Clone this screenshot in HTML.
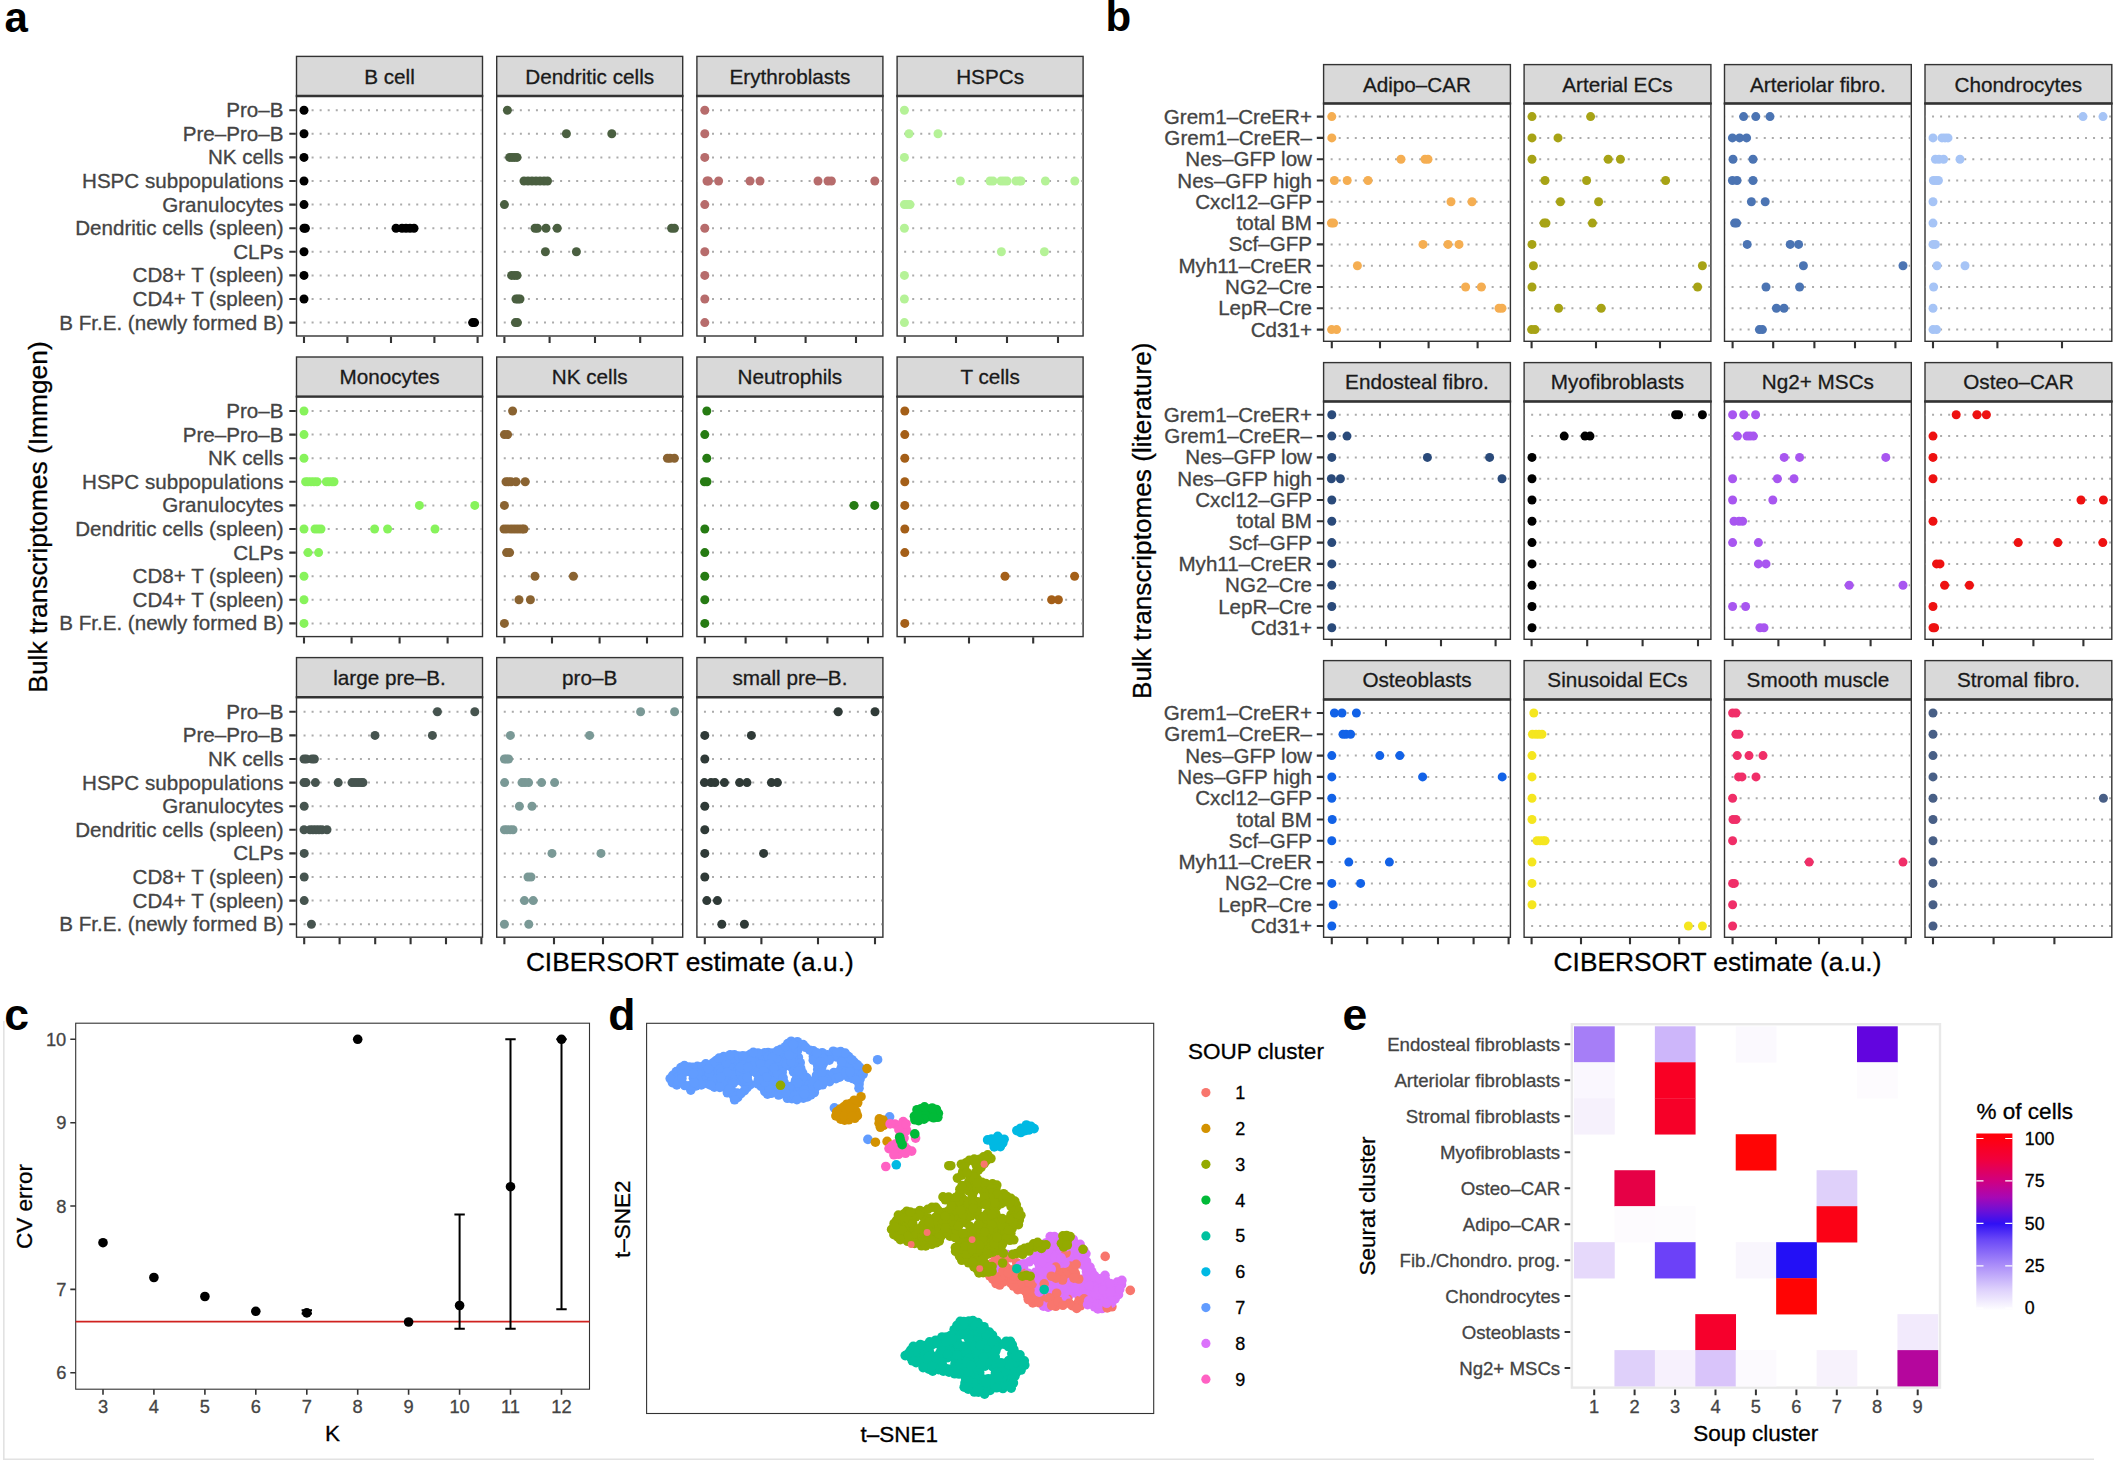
<!DOCTYPE html>
<html lang="en"><head><meta charset="utf-8"><title>Figure</title>
<style>html,body{margin:0;padding:0;background:#fff}body{width:2114px;height:1460px;overflow:hidden}svg{display:block}text{font-family:"Liberation Sans", sans-serif}</style>
</head><body>
<svg width="2114" height="1460" viewBox="0 0 2114 1460" font-family='"Liberation Sans", sans-serif'>
<text x="4.5" y="31.6" font-size="42" fill="#000" font-weight="bold">a</text>
<rect x="296.5" y="56.4" width="186.0" height="39.6" fill="#d9d9d9" stroke="#333333" stroke-width="1.4"/>
<rect x="296.5" y="96.0" width="186.0" height="240.0" fill="#fff" stroke="#333333" stroke-width="1.4"/>
<path d="M295.8 96.0h187.4" stroke="#333333" stroke-width="2.4"/>
<text x="389.5" y="83.6" font-size="20.7" fill="#1a1a1a" stroke="#1a1a1a" stroke-width="0.3" text-anchor="middle">B cell</text>
<path d="M297.3 110.2H481.7M297.3 133.8H481.7M297.3 157.4H481.7M297.3 181.0H481.7M297.3 204.6H481.7M297.3 228.2H481.7M297.3 251.8H481.7M297.3 275.4H481.7M297.3 299.0H481.7M297.3 322.6H481.7" stroke="#ababab" stroke-width="2" stroke-dasharray="2 6.05" stroke-dashoffset="-6.25" fill="none"/>
<path d="M304.0 336.7v6.3M347.4 336.7v6.3M391.0 336.7v6.3M434.4 336.7v6.3M477.6 336.7v6.3" stroke="#333333" stroke-width="2.1" fill="none"/>
<g fill="#000000"><circle cx="304.0" cy="110.2" r="4.5"/><circle cx="304.0" cy="133.8" r="4.5"/><circle cx="304.0" cy="157.4" r="4.5"/><circle cx="304.0" cy="181.0" r="4.5"/><circle cx="304.0" cy="204.6" r="4.5"/><circle cx="304.0" cy="228.2" r="4.5"/><circle cx="305.4" cy="228.2" r="4.5"/><circle cx="396.0" cy="228.2" r="4.5"/><circle cx="402.0" cy="228.2" r="4.5"/><circle cx="406.0" cy="228.2" r="4.5"/><circle cx="410.0" cy="228.2" r="4.5"/><circle cx="414.0" cy="228.2" r="4.5"/><circle cx="304.0" cy="251.8" r="4.5"/><circle cx="304.0" cy="275.4" r="4.5"/><circle cx="304.0" cy="299.0" r="4.5"/><circle cx="472.6" cy="322.6" r="4.5"/><circle cx="474.6" cy="322.6" r="4.5"/></g>
<text x="283.5" y="117.2" font-size="20.6" fill="#444444" stroke="#444444" stroke-width="0.3" text-anchor="end">Pro–B</text>
<text x="283.5" y="140.8" font-size="20.6" fill="#444444" stroke="#444444" stroke-width="0.3" text-anchor="end">Pre–Pro–B</text>
<text x="283.5" y="164.4" font-size="20.6" fill="#444444" stroke="#444444" stroke-width="0.3" text-anchor="end">NK cells</text>
<text x="283.5" y="188.0" font-size="20.6" fill="#444444" stroke="#444444" stroke-width="0.3" text-anchor="end">HSPC subpopulations</text>
<text x="283.5" y="211.6" font-size="20.6" fill="#444444" stroke="#444444" stroke-width="0.3" text-anchor="end">Granulocytes</text>
<text x="283.5" y="235.2" font-size="20.6" fill="#444444" stroke="#444444" stroke-width="0.3" text-anchor="end">Dendritic cells (spleen)</text>
<text x="283.5" y="258.8" font-size="20.6" fill="#444444" stroke="#444444" stroke-width="0.3" text-anchor="end">CLPs</text>
<text x="283.5" y="282.4" font-size="20.6" fill="#444444" stroke="#444444" stroke-width="0.3" text-anchor="end">CD8+ T (spleen)</text>
<text x="283.5" y="306.0" font-size="20.6" fill="#444444" stroke="#444444" stroke-width="0.3" text-anchor="end">CD4+ T (spleen)</text>
<text x="283.5" y="329.6" font-size="20.6" fill="#444444" stroke="#444444" stroke-width="0.3" text-anchor="end">B Fr.E. (newly formed B)</text>
<path d="M289.3 110.2h6.5M289.3 133.8h6.5M289.3 157.4h6.5M289.3 181.0h6.5M289.3 204.6h6.5M289.3 228.2h6.5M289.3 251.8h6.5M289.3 275.4h6.5M289.3 299.0h6.5M289.3 322.6h6.5" stroke="#333333" stroke-width="2.1" fill="none"/>
<rect x="496.7" y="56.4" width="186.0" height="39.6" fill="#d9d9d9" stroke="#333333" stroke-width="1.4"/>
<rect x="496.7" y="96.0" width="186.0" height="240.0" fill="#fff" stroke="#333333" stroke-width="1.4"/>
<path d="M496.0 96.0h187.4" stroke="#333333" stroke-width="2.4"/>
<text x="589.7" y="83.6" font-size="20.7" fill="#1a1a1a" stroke="#1a1a1a" stroke-width="0.3" text-anchor="middle">Dendritic cells</text>
<path d="M497.5 110.2H681.9M497.5 133.8H681.9M497.5 157.4H681.9M497.5 181.0H681.9M497.5 204.6H681.9M497.5 228.2H681.9M497.5 251.8H681.9M497.5 275.4H681.9M497.5 299.0H681.9M497.5 322.6H681.9" stroke="#ababab" stroke-width="2" stroke-dasharray="2 6.05" stroke-dashoffset="-6.25" fill="none"/>
<path d="M504.4 336.7v6.3M549.6 336.7v6.3M595.0 336.7v6.3M640.2 336.7v6.3" stroke="#333333" stroke-width="2.1" fill="none"/>
<g fill="#4a5f40"><circle cx="507.4" cy="110.2" r="4.5"/><circle cx="566.4" cy="133.8" r="4.5"/><circle cx="611.8" cy="133.8" r="4.5"/><circle cx="509.6" cy="157.4" r="4.5"/><circle cx="512.0" cy="157.4" r="4.5"/><circle cx="514.4" cy="157.4" r="4.5"/><circle cx="517.0" cy="157.4" r="4.5"/><circle cx="524.0" cy="181.0" r="4.5"/><circle cx="528.0" cy="181.0" r="4.5"/><circle cx="532.0" cy="181.0" r="4.5"/><circle cx="536.0" cy="181.0" r="4.5"/><circle cx="540.0" cy="181.0" r="4.5"/><circle cx="544.0" cy="181.0" r="4.5"/><circle cx="547.5" cy="181.0" r="4.5"/><circle cx="504.4" cy="204.6" r="4.5"/><circle cx="535.0" cy="228.2" r="4.5"/><circle cx="537.4" cy="228.2" r="4.5"/><circle cx="546.0" cy="228.2" r="4.5"/><circle cx="557.2" cy="228.2" r="4.5"/><circle cx="671.6" cy="228.2" r="4.5"/><circle cx="674.4" cy="228.2" r="4.5"/><circle cx="545.4" cy="251.8" r="4.5"/><circle cx="576.4" cy="251.8" r="4.5"/><circle cx="511.6" cy="275.4" r="4.5"/><circle cx="514.4" cy="275.4" r="4.5"/><circle cx="517.0" cy="275.4" r="4.5"/><circle cx="516.0" cy="299.0" r="4.5"/><circle cx="518.0" cy="299.0" r="4.5"/><circle cx="520.0" cy="299.0" r="4.5"/><circle cx="515.4" cy="322.6" r="4.5"/><circle cx="517.4" cy="322.6" r="4.5"/></g>
<rect x="696.9" y="56.4" width="186.0" height="39.6" fill="#d9d9d9" stroke="#333333" stroke-width="1.4"/>
<rect x="696.9" y="96.0" width="186.0" height="240.0" fill="#fff" stroke="#333333" stroke-width="1.4"/>
<path d="M696.2 96.0h187.4" stroke="#333333" stroke-width="2.4"/>
<text x="789.9" y="83.6" font-size="20.7" fill="#1a1a1a" stroke="#1a1a1a" stroke-width="0.3" text-anchor="middle">Erythroblasts</text>
<path d="M697.7 110.2H882.1M697.7 133.8H882.1M697.7 157.4H882.1M697.7 181.0H882.1M697.7 204.6H882.1M697.7 228.2H882.1M697.7 251.8H882.1M697.7 275.4H882.1M697.7 299.0H882.1M697.7 322.6H882.1" stroke="#ababab" stroke-width="2" stroke-dasharray="2 6.05" stroke-dashoffset="-6.25" fill="none"/>
<path d="M704.8 336.7v6.3M755.2 336.7v6.3M805.6 336.7v6.3M856.0 336.7v6.3" stroke="#333333" stroke-width="2.1" fill="none"/>
<g fill="#b76c6c"><circle cx="704.8" cy="110.2" r="4.5"/><circle cx="704.8" cy="133.8" r="4.5"/><circle cx="704.8" cy="157.4" r="4.5"/><circle cx="707.0" cy="181.0" r="4.5"/><circle cx="708.4" cy="181.0" r="4.5"/><circle cx="718.6" cy="181.0" r="4.5"/><circle cx="750.0" cy="181.0" r="4.5"/><circle cx="760.0" cy="181.0" r="4.5"/><circle cx="818.0" cy="181.0" r="4.5"/><circle cx="828.0" cy="181.0" r="4.5"/><circle cx="831.4" cy="181.0" r="4.5"/><circle cx="874.8" cy="181.0" r="4.5"/><circle cx="704.8" cy="204.6" r="4.5"/><circle cx="704.8" cy="228.2" r="4.5"/><circle cx="704.8" cy="251.8" r="4.5"/><circle cx="704.8" cy="275.4" r="4.5"/><circle cx="704.8" cy="299.0" r="4.5"/><circle cx="704.8" cy="322.6" r="4.5"/></g>
<rect x="897.1" y="56.4" width="186.0" height="39.6" fill="#d9d9d9" stroke="#333333" stroke-width="1.4"/>
<rect x="897.1" y="96.0" width="186.0" height="240.0" fill="#fff" stroke="#333333" stroke-width="1.4"/>
<path d="M896.4 96.0h187.4" stroke="#333333" stroke-width="2.4"/>
<text x="990.1" y="83.6" font-size="20.7" fill="#1a1a1a" stroke="#1a1a1a" stroke-width="0.3" text-anchor="middle">HSPCs</text>
<path d="M897.9 110.2H1082.3M897.9 133.8H1082.3M897.9 157.4H1082.3M897.9 181.0H1082.3M897.9 204.6H1082.3M897.9 228.2H1082.3M897.9 251.8H1082.3M897.9 275.4H1082.3M897.9 299.0H1082.3M897.9 322.6H1082.3" stroke="#ababab" stroke-width="2" stroke-dasharray="2 6.05" stroke-dashoffset="-6.25" fill="none"/>
<path d="M904.8 336.7v6.3M956.0 336.7v6.3M1007.0 336.7v6.3M1058.0 336.7v6.3" stroke="#333333" stroke-width="2.1" fill="none"/>
<g fill="#b5f297"><circle cx="904.4" cy="110.2" r="4.5"/><circle cx="909.0" cy="133.8" r="4.5"/><circle cx="938.0" cy="133.8" r="4.5"/><circle cx="904.4" cy="157.4" r="4.5"/><circle cx="960.4" cy="181.0" r="4.5"/><circle cx="990.0" cy="181.0" r="4.5"/><circle cx="993.0" cy="181.0" r="4.5"/><circle cx="1001.0" cy="181.0" r="4.5"/><circle cx="1004.0" cy="181.0" r="4.5"/><circle cx="1007.0" cy="181.0" r="4.5"/><circle cx="1016.0" cy="181.0" r="4.5"/><circle cx="1019.0" cy="181.0" r="4.5"/><circle cx="1021.0" cy="181.0" r="4.5"/><circle cx="1045.4" cy="181.0" r="4.5"/><circle cx="1074.8" cy="181.0" r="4.5"/><circle cx="904.4" cy="204.6" r="4.5"/><circle cx="907.0" cy="204.6" r="4.5"/><circle cx="910.0" cy="204.6" r="4.5"/><circle cx="904.4" cy="228.2" r="4.5"/><circle cx="1001.4" cy="251.8" r="4.5"/><circle cx="1044.4" cy="251.8" r="4.5"/><circle cx="904.4" cy="275.4" r="4.5"/><circle cx="904.4" cy="299.0" r="4.5"/><circle cx="904.4" cy="322.6" r="4.5"/></g>
<rect x="296.5" y="357.0" width="186.0" height="39.6" fill="#d9d9d9" stroke="#333333" stroke-width="1.4"/>
<rect x="296.5" y="396.6" width="186.0" height="240.0" fill="#fff" stroke="#333333" stroke-width="1.4"/>
<path d="M295.8 396.6h187.4" stroke="#333333" stroke-width="2.4"/>
<text x="389.5" y="384.2" font-size="20.7" fill="#1a1a1a" stroke="#1a1a1a" stroke-width="0.3" text-anchor="middle">Monocytes</text>
<path d="M297.3 411.0H481.7M297.3 434.6H481.7M297.3 458.2H481.7M297.3 481.8H481.7M297.3 505.4H481.7M297.3 529.0H481.7M297.3 552.6H481.7M297.3 576.2H481.7M297.3 599.8H481.7M297.3 623.4H481.7" stroke="#ababab" stroke-width="2" stroke-dasharray="2 6.05" stroke-dashoffset="-6.25" fill="none"/>
<path d="M304.0 637.3v6.3M351.6 637.3v6.3M399.6 637.3v6.3M447.6 637.3v6.3" stroke="#333333" stroke-width="2.1" fill="none"/>
<g fill="#87f35b"><circle cx="304.0" cy="411.0" r="4.5"/><circle cx="304.0" cy="434.6" r="4.5"/><circle cx="304.0" cy="458.2" r="4.5"/><circle cx="305.6" cy="481.8" r="4.5"/><circle cx="308.0" cy="481.8" r="4.5"/><circle cx="311.0" cy="481.8" r="4.5"/><circle cx="314.0" cy="481.8" r="4.5"/><circle cx="317.0" cy="481.8" r="4.5"/><circle cx="326.4" cy="481.8" r="4.5"/><circle cx="329.0" cy="481.8" r="4.5"/><circle cx="332.0" cy="481.8" r="4.5"/><circle cx="334.0" cy="481.8" r="4.5"/><circle cx="419.4" cy="505.4" r="4.5"/><circle cx="474.8" cy="505.4" r="4.5"/><circle cx="304.0" cy="529.0" r="4.5"/><circle cx="315.0" cy="529.0" r="4.5"/><circle cx="318.0" cy="529.0" r="4.5"/><circle cx="321.0" cy="529.0" r="4.5"/><circle cx="374.6" cy="529.0" r="4.5"/><circle cx="387.6" cy="529.0" r="4.5"/><circle cx="435.0" cy="529.0" r="4.5"/><circle cx="308.0" cy="552.6" r="4.5"/><circle cx="318.6" cy="552.6" r="4.5"/><circle cx="304.0" cy="576.2" r="4.5"/><circle cx="304.0" cy="599.8" r="4.5"/><circle cx="304.0" cy="623.4" r="4.5"/></g>
<text x="283.5" y="418.0" font-size="20.6" fill="#444444" stroke="#444444" stroke-width="0.3" text-anchor="end">Pro–B</text>
<text x="283.5" y="441.6" font-size="20.6" fill="#444444" stroke="#444444" stroke-width="0.3" text-anchor="end">Pre–Pro–B</text>
<text x="283.5" y="465.2" font-size="20.6" fill="#444444" stroke="#444444" stroke-width="0.3" text-anchor="end">NK cells</text>
<text x="283.5" y="488.8" font-size="20.6" fill="#444444" stroke="#444444" stroke-width="0.3" text-anchor="end">HSPC subpopulations</text>
<text x="283.5" y="512.4" font-size="20.6" fill="#444444" stroke="#444444" stroke-width="0.3" text-anchor="end">Granulocytes</text>
<text x="283.5" y="536.0" font-size="20.6" fill="#444444" stroke="#444444" stroke-width="0.3" text-anchor="end">Dendritic cells (spleen)</text>
<text x="283.5" y="559.6" font-size="20.6" fill="#444444" stroke="#444444" stroke-width="0.3" text-anchor="end">CLPs</text>
<text x="283.5" y="583.2" font-size="20.6" fill="#444444" stroke="#444444" stroke-width="0.3" text-anchor="end">CD8+ T (spleen)</text>
<text x="283.5" y="606.8" font-size="20.6" fill="#444444" stroke="#444444" stroke-width="0.3" text-anchor="end">CD4+ T (spleen)</text>
<text x="283.5" y="630.4" font-size="20.6" fill="#444444" stroke="#444444" stroke-width="0.3" text-anchor="end">B Fr.E. (newly formed B)</text>
<path d="M289.3 411.0h6.5M289.3 434.6h6.5M289.3 458.2h6.5M289.3 481.8h6.5M289.3 505.4h6.5M289.3 529.0h6.5M289.3 552.6h6.5M289.3 576.2h6.5M289.3 599.8h6.5M289.3 623.4h6.5" stroke="#333333" stroke-width="2.1" fill="none"/>
<rect x="496.7" y="357.0" width="186.0" height="39.6" fill="#d9d9d9" stroke="#333333" stroke-width="1.4"/>
<rect x="496.7" y="396.6" width="186.0" height="240.0" fill="#fff" stroke="#333333" stroke-width="1.4"/>
<path d="M496.0 396.6h187.4" stroke="#333333" stroke-width="2.4"/>
<text x="589.7" y="384.2" font-size="20.7" fill="#1a1a1a" stroke="#1a1a1a" stroke-width="0.3" text-anchor="middle">NK cells</text>
<path d="M497.5 411.0H681.9M497.5 434.6H681.9M497.5 458.2H681.9M497.5 481.8H681.9M497.5 505.4H681.9M497.5 529.0H681.9M497.5 552.6H681.9M497.5 576.2H681.9M497.5 599.8H681.9M497.5 623.4H681.9" stroke="#ababab" stroke-width="2" stroke-dasharray="2 6.05" stroke-dashoffset="-6.25" fill="none"/>
<path d="M504.4 637.3v6.3M552.0 637.3v6.3M599.6 637.3v6.3M647.0 637.3v6.3" stroke="#333333" stroke-width="2.1" fill="none"/>
<g fill="#8a6331"><circle cx="512.6" cy="411.0" r="4.5"/><circle cx="504.4" cy="434.6" r="4.5"/><circle cx="507.6" cy="434.6" r="4.5"/><circle cx="667.4" cy="458.2" r="4.5"/><circle cx="670.0" cy="458.2" r="4.5"/><circle cx="674.4" cy="458.2" r="4.5"/><circle cx="506.0" cy="481.8" r="4.5"/><circle cx="508.4" cy="481.8" r="4.5"/><circle cx="511.0" cy="481.8" r="4.5"/><circle cx="516.0" cy="481.8" r="4.5"/><circle cx="525.2" cy="481.8" r="4.5"/><circle cx="504.4" cy="505.4" r="4.5"/><circle cx="504.0" cy="529.0" r="4.5"/><circle cx="507.0" cy="529.0" r="4.5"/><circle cx="510.0" cy="529.0" r="4.5"/><circle cx="513.0" cy="529.0" r="4.5"/><circle cx="516.0" cy="529.0" r="4.5"/><circle cx="519.0" cy="529.0" r="4.5"/><circle cx="522.0" cy="529.0" r="4.5"/><circle cx="524.0" cy="529.0" r="4.5"/><circle cx="506.6" cy="552.6" r="4.5"/><circle cx="509.6" cy="552.6" r="4.5"/><circle cx="535.0" cy="576.2" r="4.5"/><circle cx="573.4" cy="576.2" r="4.5"/><circle cx="519.0" cy="599.8" r="4.5"/><circle cx="530.4" cy="599.8" r="4.5"/><circle cx="504.4" cy="623.4" r="4.5"/></g>
<rect x="696.9" y="357.0" width="186.0" height="39.6" fill="#d9d9d9" stroke="#333333" stroke-width="1.4"/>
<rect x="696.9" y="396.6" width="186.0" height="240.0" fill="#fff" stroke="#333333" stroke-width="1.4"/>
<path d="M696.2 396.6h187.4" stroke="#333333" stroke-width="2.4"/>
<text x="789.9" y="384.2" font-size="20.7" fill="#1a1a1a" stroke="#1a1a1a" stroke-width="0.3" text-anchor="middle">Neutrophils</text>
<path d="M697.7 411.0H882.1M697.7 434.6H882.1M697.7 458.2H882.1M697.7 481.8H882.1M697.7 505.4H882.1M697.7 529.0H882.1M697.7 552.6H882.1M697.7 576.2H882.1M697.7 599.8H882.1M697.7 623.4H882.1" stroke="#ababab" stroke-width="2" stroke-dasharray="2 6.05" stroke-dashoffset="-6.25" fill="none"/>
<path d="M704.8 637.3v6.3M745.6 637.3v6.3M786.4 637.3v6.3M827.4 637.3v6.3M868.0 637.3v6.3" stroke="#333333" stroke-width="2.1" fill="none"/>
<g fill="#267b13"><circle cx="706.8" cy="411.0" r="4.5"/><circle cx="704.8" cy="434.6" r="4.5"/><circle cx="706.8" cy="458.2" r="4.5"/><circle cx="704.4" cy="481.8" r="4.5"/><circle cx="707.0" cy="481.8" r="4.5"/><circle cx="854.0" cy="505.4" r="4.5"/><circle cx="874.8" cy="505.4" r="4.5"/><circle cx="704.8" cy="529.0" r="4.5"/><circle cx="704.8" cy="552.6" r="4.5"/><circle cx="704.8" cy="576.2" r="4.5"/><circle cx="704.8" cy="599.8" r="4.5"/><circle cx="704.8" cy="623.4" r="4.5"/></g>
<rect x="897.1" y="357.0" width="186.0" height="39.6" fill="#d9d9d9" stroke="#333333" stroke-width="1.4"/>
<rect x="897.1" y="396.6" width="186.0" height="240.0" fill="#fff" stroke="#333333" stroke-width="1.4"/>
<path d="M896.4 396.6h187.4" stroke="#333333" stroke-width="2.4"/>
<text x="990.1" y="384.2" font-size="20.7" fill="#1a1a1a" stroke="#1a1a1a" stroke-width="0.3" text-anchor="middle">T cells</text>
<path d="M897.9 411.0H1082.3M897.9 434.6H1082.3M897.9 458.2H1082.3M897.9 481.8H1082.3M897.9 505.4H1082.3M897.9 529.0H1082.3M897.9 552.6H1082.3M897.9 576.2H1082.3M897.9 599.8H1082.3M897.9 623.4H1082.3" stroke="#ababab" stroke-width="2" stroke-dasharray="2 6.05" stroke-dashoffset="-6.25" fill="none"/>
<path d="M904.8 637.3v6.3M969.0 637.3v6.3M1033.2 637.3v6.3" stroke="#333333" stroke-width="2.1" fill="none"/>
<g fill="#a45f18"><circle cx="904.8" cy="411.0" r="4.5"/><circle cx="904.8" cy="434.6" r="4.5"/><circle cx="904.8" cy="458.2" r="4.5"/><circle cx="904.8" cy="481.8" r="4.5"/><circle cx="904.8" cy="505.4" r="4.5"/><circle cx="904.8" cy="529.0" r="4.5"/><circle cx="904.8" cy="552.6" r="4.5"/><circle cx="1005.0" cy="576.2" r="4.5"/><circle cx="1074.6" cy="576.2" r="4.5"/><circle cx="1051.6" cy="599.8" r="4.5"/><circle cx="1058.4" cy="599.8" r="4.5"/><circle cx="904.8" cy="623.4" r="4.5"/></g>
<rect x="296.5" y="657.6" width="186.0" height="39.6" fill="#d9d9d9" stroke="#333333" stroke-width="1.4"/>
<rect x="296.5" y="697.2" width="186.0" height="240.0" fill="#fff" stroke="#333333" stroke-width="1.4"/>
<path d="M295.8 697.2h187.4" stroke="#333333" stroke-width="2.4"/>
<text x="389.5" y="684.8" font-size="20.7" fill="#1a1a1a" stroke="#1a1a1a" stroke-width="0.3" text-anchor="middle">large pre–B.</text>
<path d="M297.3 711.8H481.7M297.3 735.4H481.7M297.3 759.0H481.7M297.3 782.6H481.7M297.3 806.2H481.7M297.3 829.8H481.7M297.3 853.4H481.7M297.3 877.0H481.7M297.3 900.6H481.7M297.3 924.2H481.7" stroke="#ababab" stroke-width="2" stroke-dasharray="2 6.05" stroke-dashoffset="-6.25" fill="none"/>
<path d="M304.2 937.9v6.3M339.6 937.9v6.3M375.2 937.9v6.3M410.6 937.9v6.3M446.0 937.9v6.3M481.4 937.9v6.3" stroke="#333333" stroke-width="2.1" fill="none"/>
<g fill="#46544f"><circle cx="437.4" cy="711.8" r="4.5"/><circle cx="474.8" cy="711.8" r="4.5"/><circle cx="375.0" cy="735.4" r="4.5"/><circle cx="432.4" cy="735.4" r="4.5"/><circle cx="304.0" cy="759.0" r="4.5"/><circle cx="306.4" cy="759.0" r="4.5"/><circle cx="312.0" cy="759.0" r="4.5"/><circle cx="314.4" cy="759.0" r="4.5"/><circle cx="304.0" cy="782.6" r="4.5"/><circle cx="306.0" cy="782.6" r="4.5"/><circle cx="315.4" cy="782.6" r="4.5"/><circle cx="338.2" cy="782.6" r="4.5"/><circle cx="352.0" cy="782.6" r="4.5"/><circle cx="355.0" cy="782.6" r="4.5"/><circle cx="358.0" cy="782.6" r="4.5"/><circle cx="361.0" cy="782.6" r="4.5"/><circle cx="363.0" cy="782.6" r="4.5"/><circle cx="304.2" cy="806.2" r="4.5"/><circle cx="304.0" cy="829.8" r="4.5"/><circle cx="310.0" cy="829.8" r="4.5"/><circle cx="313.0" cy="829.8" r="4.5"/><circle cx="316.0" cy="829.8" r="4.5"/><circle cx="319.0" cy="829.8" r="4.5"/><circle cx="322.0" cy="829.8" r="4.5"/><circle cx="327.0" cy="829.8" r="4.5"/><circle cx="304.2" cy="853.4" r="4.5"/><circle cx="304.2" cy="877.0" r="4.5"/><circle cx="304.2" cy="900.6" r="4.5"/><circle cx="311.4" cy="924.2" r="4.5"/></g>
<text x="283.5" y="718.8" font-size="20.6" fill="#444444" stroke="#444444" stroke-width="0.3" text-anchor="end">Pro–B</text>
<text x="283.5" y="742.4" font-size="20.6" fill="#444444" stroke="#444444" stroke-width="0.3" text-anchor="end">Pre–Pro–B</text>
<text x="283.5" y="766.0" font-size="20.6" fill="#444444" stroke="#444444" stroke-width="0.3" text-anchor="end">NK cells</text>
<text x="283.5" y="789.6" font-size="20.6" fill="#444444" stroke="#444444" stroke-width="0.3" text-anchor="end">HSPC subpopulations</text>
<text x="283.5" y="813.2" font-size="20.6" fill="#444444" stroke="#444444" stroke-width="0.3" text-anchor="end">Granulocytes</text>
<text x="283.5" y="836.8" font-size="20.6" fill="#444444" stroke="#444444" stroke-width="0.3" text-anchor="end">Dendritic cells (spleen)</text>
<text x="283.5" y="860.4" font-size="20.6" fill="#444444" stroke="#444444" stroke-width="0.3" text-anchor="end">CLPs</text>
<text x="283.5" y="884.0" font-size="20.6" fill="#444444" stroke="#444444" stroke-width="0.3" text-anchor="end">CD8+ T (spleen)</text>
<text x="283.5" y="907.6" font-size="20.6" fill="#444444" stroke="#444444" stroke-width="0.3" text-anchor="end">CD4+ T (spleen)</text>
<text x="283.5" y="931.2" font-size="20.6" fill="#444444" stroke="#444444" stroke-width="0.3" text-anchor="end">B Fr.E. (newly formed B)</text>
<path d="M289.3 711.8h6.5M289.3 735.4h6.5M289.3 759.0h6.5M289.3 782.6h6.5M289.3 806.2h6.5M289.3 829.8h6.5M289.3 853.4h6.5M289.3 877.0h6.5M289.3 900.6h6.5M289.3 924.2h6.5" stroke="#333333" stroke-width="2.1" fill="none"/>
<rect x="496.7" y="657.6" width="186.0" height="39.6" fill="#d9d9d9" stroke="#333333" stroke-width="1.4"/>
<rect x="496.7" y="697.2" width="186.0" height="240.0" fill="#fff" stroke="#333333" stroke-width="1.4"/>
<path d="M496.0 697.2h187.4" stroke="#333333" stroke-width="2.4"/>
<text x="589.7" y="684.8" font-size="20.7" fill="#1a1a1a" stroke="#1a1a1a" stroke-width="0.3" text-anchor="middle">pro–B</text>
<path d="M497.5 711.8H681.9M497.5 735.4H681.9M497.5 759.0H681.9M497.5 782.6H681.9M497.5 806.2H681.9M497.5 829.8H681.9M497.5 853.4H681.9M497.5 877.0H681.9M497.5 900.6H681.9M497.5 924.2H681.9" stroke="#ababab" stroke-width="2" stroke-dasharray="2 6.05" stroke-dashoffset="-6.25" fill="none"/>
<path d="M504.4 937.9v6.3M554.0 937.9v6.3M603.0 937.9v6.3M652.4 937.9v6.3" stroke="#333333" stroke-width="2.1" fill="none"/>
<g fill="#7a9996"><circle cx="640.6" cy="711.8" r="4.5"/><circle cx="674.6" cy="711.8" r="4.5"/><circle cx="510.4" cy="735.4" r="4.5"/><circle cx="589.6" cy="735.4" r="4.5"/><circle cx="504.4" cy="759.0" r="4.5"/><circle cx="506.4" cy="759.0" r="4.5"/><circle cx="508.6" cy="759.0" r="4.5"/><circle cx="504.6" cy="782.6" r="4.5"/><circle cx="522.0" cy="782.6" r="4.5"/><circle cx="525.0" cy="782.6" r="4.5"/><circle cx="528.6" cy="782.6" r="4.5"/><circle cx="541.6" cy="782.6" r="4.5"/><circle cx="554.6" cy="782.6" r="4.5"/><circle cx="519.4" cy="806.2" r="4.5"/><circle cx="532.0" cy="806.2" r="4.5"/><circle cx="504.4" cy="829.8" r="4.5"/><circle cx="507.0" cy="829.8" r="4.5"/><circle cx="510.0" cy="829.8" r="4.5"/><circle cx="513.0" cy="829.8" r="4.5"/><circle cx="552.0" cy="853.4" r="4.5"/><circle cx="601.0" cy="853.4" r="4.5"/><circle cx="528.0" cy="877.0" r="4.5"/><circle cx="531.0" cy="877.0" r="4.5"/><circle cx="524.4" cy="900.6" r="4.5"/><circle cx="533.2" cy="900.6" r="4.5"/><circle cx="504.4" cy="924.2" r="4.5"/><circle cx="528.8" cy="924.2" r="4.5"/></g>
<rect x="696.9" y="657.6" width="186.0" height="39.6" fill="#d9d9d9" stroke="#333333" stroke-width="1.4"/>
<rect x="696.9" y="697.2" width="186.0" height="240.0" fill="#fff" stroke="#333333" stroke-width="1.4"/>
<path d="M696.2 697.2h187.4" stroke="#333333" stroke-width="2.4"/>
<text x="789.9" y="684.8" font-size="20.7" fill="#1a1a1a" stroke="#1a1a1a" stroke-width="0.3" text-anchor="middle">small pre–B.</text>
<path d="M697.7 711.8H882.1M697.7 735.4H882.1M697.7 759.0H882.1M697.7 782.6H882.1M697.7 806.2H882.1M697.7 829.8H882.1M697.7 853.4H882.1M697.7 877.0H882.1M697.7 900.6H882.1M697.7 924.2H882.1" stroke="#ababab" stroke-width="2" stroke-dasharray="2 6.05" stroke-dashoffset="-6.25" fill="none"/>
<path d="M704.8 937.9v6.3M761.4 937.9v6.3M818.0 937.9v6.3M875.0 937.9v6.3" stroke="#333333" stroke-width="2.1" fill="none"/>
<g fill="#2f3a37"><circle cx="838.2" cy="711.8" r="4.5"/><circle cx="875.0" cy="711.8" r="4.5"/><circle cx="704.8" cy="735.4" r="4.5"/><circle cx="751.4" cy="735.4" r="4.5"/><circle cx="704.8" cy="759.0" r="4.5"/><circle cx="704.4" cy="782.6" r="4.5"/><circle cx="711.0" cy="782.6" r="4.5"/><circle cx="715.0" cy="782.6" r="4.5"/><circle cx="724.4" cy="782.6" r="4.5"/><circle cx="739.6" cy="782.6" r="4.5"/><circle cx="747.0" cy="782.6" r="4.5"/><circle cx="771.4" cy="782.6" r="4.5"/><circle cx="777.4" cy="782.6" r="4.5"/><circle cx="704.8" cy="806.2" r="4.5"/><circle cx="704.8" cy="829.8" r="4.5"/><circle cx="704.8" cy="853.4" r="4.5"/><circle cx="763.6" cy="853.4" r="4.5"/><circle cx="704.8" cy="877.0" r="4.5"/><circle cx="706.8" cy="900.6" r="4.5"/><circle cx="717.4" cy="900.6" r="4.5"/><circle cx="721.8" cy="924.2" r="4.5"/><circle cx="744.4" cy="924.2" r="4.5"/></g>
<text x="47.2" y="517.0" font-size="26.35" fill="#000" stroke="#000" stroke-width="0.3" text-anchor="middle" transform="rotate(-90 47.2 517.0)">Bulk transcriptomes (Immgen)</text>
<text x="689.8" y="970.6" font-size="26.3" fill="#000" stroke="#000" stroke-width="0.3" text-anchor="middle">CIBERSORT estimate (a.u.)</text>
<text x="1105.5" y="31.3" font-size="42" fill="#000" font-weight="bold">b</text>
<rect x="1323.6" y="64.6" width="186.8" height="38.9" fill="#d9d9d9" stroke="#333333" stroke-width="1.4"/>
<rect x="1323.6" y="103.5" width="186.8" height="237.8" fill="#fff" stroke="#333333" stroke-width="1.4"/>
<path d="M1322.9 103.5h188.2" stroke="#333333" stroke-width="2.4"/>
<text x="1417.0" y="91.5" font-size="20.7" fill="#1a1a1a" stroke="#1a1a1a" stroke-width="0.3" text-anchor="middle">Adipo–CAR</text>
<path d="M1324.4 116.6H1509.6M1324.4 137.9H1509.6M1324.4 159.2H1509.6M1324.4 180.5H1509.6M1324.4 201.8H1509.6M1324.4 223.1H1509.6M1324.4 244.4H1509.6M1324.4 265.7H1509.6M1324.4 287.0H1509.6M1324.4 308.3H1509.6M1324.4 329.6H1509.6" stroke="#ababab" stroke-width="2" stroke-dasharray="2 6.05" stroke-dashoffset="-6.25" fill="none"/>
<path d="M1331.8 342.0v6.3M1380.0 342.0v6.3M1428.6 342.0v6.3M1477.6 342.0v6.3" stroke="#333333" stroke-width="2.1" fill="none"/>
<g fill="#f5ae52"><circle cx="1331.8" cy="116.6" r="4.5"/><circle cx="1331.8" cy="137.9" r="4.5"/><circle cx="1401.0" cy="159.2" r="4.5"/><circle cx="1425.0" cy="159.2" r="4.5"/><circle cx="1428.0" cy="159.2" r="4.5"/><circle cx="1334.4" cy="180.5" r="4.5"/><circle cx="1347.2" cy="180.5" r="4.5"/><circle cx="1368.0" cy="180.5" r="4.5"/><circle cx="1451.0" cy="201.8" r="4.5"/><circle cx="1472.0" cy="201.8" r="4.5"/><circle cx="1331.4" cy="223.1" r="4.5"/><circle cx="1333.6" cy="223.1" r="4.5"/><circle cx="1423.0" cy="244.4" r="4.5"/><circle cx="1448.0" cy="244.4" r="4.5"/><circle cx="1459.0" cy="244.4" r="4.5"/><circle cx="1357.4" cy="265.7" r="4.5"/><circle cx="1465.6" cy="287.0" r="4.5"/><circle cx="1481.4" cy="287.0" r="4.5"/><circle cx="1499.0" cy="308.3" r="4.5"/><circle cx="1502.0" cy="308.3" r="4.5"/><circle cx="1331.6" cy="329.6" r="4.5"/><circle cx="1336.6" cy="329.6" r="4.5"/></g>
<text x="1312.0" y="123.6" font-size="20.6" fill="#444444" stroke="#444444" stroke-width="0.3" text-anchor="end">Grem1–CreER+</text>
<text x="1312.0" y="144.9" font-size="20.6" fill="#444444" stroke="#444444" stroke-width="0.3" text-anchor="end">Grem1–CreER–</text>
<text x="1312.0" y="166.2" font-size="20.6" fill="#444444" stroke="#444444" stroke-width="0.3" text-anchor="end">Nes–GFP low</text>
<text x="1312.0" y="187.5" font-size="20.6" fill="#444444" stroke="#444444" stroke-width="0.3" text-anchor="end">Nes–GFP high</text>
<text x="1312.0" y="208.8" font-size="20.6" fill="#444444" stroke="#444444" stroke-width="0.3" text-anchor="end">Cxcl12–GFP</text>
<text x="1312.0" y="230.1" font-size="20.6" fill="#444444" stroke="#444444" stroke-width="0.3" text-anchor="end">total BM</text>
<text x="1312.0" y="251.4" font-size="20.6" fill="#444444" stroke="#444444" stroke-width="0.3" text-anchor="end">Scf–GFP</text>
<text x="1312.0" y="272.7" font-size="20.6" fill="#444444" stroke="#444444" stroke-width="0.3" text-anchor="end">Myh11–CreER</text>
<text x="1312.0" y="294.0" font-size="20.6" fill="#444444" stroke="#444444" stroke-width="0.3" text-anchor="end">NG2–Cre</text>
<text x="1312.0" y="315.3" font-size="20.6" fill="#444444" stroke="#444444" stroke-width="0.3" text-anchor="end">LepR–Cre</text>
<text x="1312.0" y="336.6" font-size="20.6" fill="#444444" stroke="#444444" stroke-width="0.3" text-anchor="end">Cd31+</text>
<path d="M1316.8 116.6h6.5M1316.8 137.9h6.5M1316.8 159.2h6.5M1316.8 180.5h6.5M1316.8 201.8h6.5M1316.8 223.1h6.5M1316.8 244.4h6.5M1316.8 265.7h6.5M1316.8 287.0h6.5M1316.8 308.3h6.5M1316.8 329.6h6.5" stroke="#333333" stroke-width="2.1" fill="none"/>
<rect x="1524.1" y="64.6" width="186.8" height="38.9" fill="#d9d9d9" stroke="#333333" stroke-width="1.4"/>
<rect x="1524.1" y="103.5" width="186.8" height="237.8" fill="#fff" stroke="#333333" stroke-width="1.4"/>
<path d="M1523.4 103.5h188.2" stroke="#333333" stroke-width="2.4"/>
<text x="1617.5" y="91.5" font-size="20.7" fill="#1a1a1a" stroke="#1a1a1a" stroke-width="0.3" text-anchor="middle">Arterial ECs</text>
<path d="M1524.9 116.6H1710.1M1524.9 137.9H1710.1M1524.9 159.2H1710.1M1524.9 180.5H1710.1M1524.9 201.8H1710.1M1524.9 223.1H1710.1M1524.9 244.4H1710.1M1524.9 265.7H1710.1M1524.9 287.0H1710.1M1524.9 308.3H1710.1M1524.9 329.6H1710.1" stroke="#ababab" stroke-width="2" stroke-dasharray="2 6.05" stroke-dashoffset="-6.25" fill="none"/>
<path d="M1531.6 342.0v6.3M1596.0 342.0v6.3M1660.0 342.0v6.3" stroke="#333333" stroke-width="2.1" fill="none"/>
<g fill="#a7a315"><circle cx="1532.0" cy="116.6" r="4.5"/><circle cx="1590.6" cy="116.6" r="4.5"/><circle cx="1532.0" cy="137.9" r="4.5"/><circle cx="1558.0" cy="137.9" r="4.5"/><circle cx="1532.0" cy="159.2" r="4.5"/><circle cx="1608.2" cy="159.2" r="4.5"/><circle cx="1620.4" cy="159.2" r="4.5"/><circle cx="1545.0" cy="180.5" r="4.5"/><circle cx="1586.6" cy="180.5" r="4.5"/><circle cx="1665.6" cy="180.5" r="4.5"/><circle cx="1560.4" cy="201.8" r="4.5"/><circle cx="1598.6" cy="201.8" r="4.5"/><circle cx="1544.0" cy="223.1" r="4.5"/><circle cx="1546.0" cy="223.1" r="4.5"/><circle cx="1592.4" cy="223.1" r="4.5"/><circle cx="1532.0" cy="244.4" r="4.5"/><circle cx="1533.4" cy="265.7" r="4.5"/><circle cx="1702.4" cy="265.7" r="4.5"/><circle cx="1532.0" cy="287.0" r="4.5"/><circle cx="1697.6" cy="287.0" r="4.5"/><circle cx="1558.6" cy="308.3" r="4.5"/><circle cx="1601.2" cy="308.3" r="4.5"/><circle cx="1531.6" cy="329.6" r="4.5"/><circle cx="1535.0" cy="329.6" r="4.5"/></g>
<rect x="1724.5" y="64.6" width="186.8" height="38.9" fill="#d9d9d9" stroke="#333333" stroke-width="1.4"/>
<rect x="1724.5" y="103.5" width="186.8" height="237.8" fill="#fff" stroke="#333333" stroke-width="1.4"/>
<path d="M1723.8 103.5h188.2" stroke="#333333" stroke-width="2.4"/>
<text x="1817.9" y="91.5" font-size="20.7" fill="#1a1a1a" stroke="#1a1a1a" stroke-width="0.3" text-anchor="middle">Arteriolar fibro.</text>
<path d="M1725.3 116.6H1910.5M1725.3 137.9H1910.5M1725.3 159.2H1910.5M1725.3 180.5H1910.5M1725.3 201.8H1910.5M1725.3 223.1H1910.5M1725.3 244.4H1910.5M1725.3 265.7H1910.5M1725.3 287.0H1910.5M1725.3 308.3H1910.5M1725.3 329.6H1910.5" stroke="#ababab" stroke-width="2" stroke-dasharray="2 6.05" stroke-dashoffset="-6.25" fill="none"/>
<path d="M1732.6 342.0v6.3M1773.2 342.0v6.3M1814.4 342.0v6.3M1855.0 342.0v6.3M1895.4 342.0v6.3" stroke="#333333" stroke-width="2.1" fill="none"/>
<g fill="#4b74b3"><circle cx="1743.6" cy="116.6" r="4.5"/><circle cx="1755.8" cy="116.6" r="4.5"/><circle cx="1770.0" cy="116.6" r="4.5"/><circle cx="1732.4" cy="137.9" r="4.5"/><circle cx="1739.6" cy="137.9" r="4.5"/><circle cx="1746.6" cy="137.9" r="4.5"/><circle cx="1733.0" cy="159.2" r="4.5"/><circle cx="1753.0" cy="159.2" r="4.5"/><circle cx="1732.4" cy="180.5" r="4.5"/><circle cx="1737.0" cy="180.5" r="4.5"/><circle cx="1753.0" cy="180.5" r="4.5"/><circle cx="1751.4" cy="201.8" r="4.5"/><circle cx="1765.2" cy="201.8" r="4.5"/><circle cx="1734.6" cy="223.1" r="4.5"/><circle cx="1736.6" cy="223.1" r="4.5"/><circle cx="1747.2" cy="244.4" r="4.5"/><circle cx="1790.2" cy="244.4" r="4.5"/><circle cx="1798.6" cy="244.4" r="4.5"/><circle cx="1803.4" cy="265.7" r="4.5"/><circle cx="1903.0" cy="265.7" r="4.5"/><circle cx="1766.0" cy="287.0" r="4.5"/><circle cx="1799.6" cy="287.0" r="4.5"/><circle cx="1776.4" cy="308.3" r="4.5"/><circle cx="1784.0" cy="308.3" r="4.5"/><circle cx="1759.4" cy="329.6" r="4.5"/><circle cx="1762.4" cy="329.6" r="4.5"/></g>
<rect x="1925.0" y="64.6" width="186.8" height="38.9" fill="#d9d9d9" stroke="#333333" stroke-width="1.4"/>
<rect x="1925.0" y="103.5" width="186.8" height="237.8" fill="#fff" stroke="#333333" stroke-width="1.4"/>
<path d="M1924.3 103.5h188.2" stroke="#333333" stroke-width="2.4"/>
<text x="2018.4" y="91.5" font-size="20.7" fill="#1a1a1a" stroke="#1a1a1a" stroke-width="0.3" text-anchor="middle">Chondrocytes</text>
<path d="M1925.8 116.6H2111.0M1925.8 137.9H2111.0M1925.8 159.2H2111.0M1925.8 180.5H2111.0M1925.8 201.8H2111.0M1925.8 223.1H2111.0M1925.8 244.4H2111.0M1925.8 265.7H2111.0M1925.8 287.0H2111.0M1925.8 308.3H2111.0M1925.8 329.6H2111.0" stroke="#ababab" stroke-width="2" stroke-dasharray="2 6.05" stroke-dashoffset="-6.25" fill="none"/>
<path d="M1933.0 342.0v6.3M1997.4 342.0v6.3M2062.0 342.0v6.3" stroke="#333333" stroke-width="2.1" fill="none"/>
<g fill="#a6c4f6"><circle cx="2083.0" cy="116.6" r="4.5"/><circle cx="2103.0" cy="116.6" r="4.5"/><circle cx="1933.0" cy="137.9" r="4.5"/><circle cx="1942.0" cy="137.9" r="4.5"/><circle cx="1945.0" cy="137.9" r="4.5"/><circle cx="1948.0" cy="137.9" r="4.5"/><circle cx="1935.4" cy="159.2" r="4.5"/><circle cx="1939.0" cy="159.2" r="4.5"/><circle cx="1943.6" cy="159.2" r="4.5"/><circle cx="1960.0" cy="159.2" r="4.5"/><circle cx="1933.4" cy="180.5" r="4.5"/><circle cx="1936.0" cy="180.5" r="4.5"/><circle cx="1938.4" cy="180.5" r="4.5"/><circle cx="1933.0" cy="201.8" r="4.5"/><circle cx="1933.0" cy="223.1" r="4.5"/><circle cx="1933.0" cy="244.4" r="4.5"/><circle cx="1935.4" cy="244.4" r="4.5"/><circle cx="1937.0" cy="265.7" r="4.5"/><circle cx="1965.0" cy="265.7" r="4.5"/><circle cx="1933.6" cy="287.0" r="4.5"/><circle cx="1933.0" cy="308.3" r="4.5"/><circle cx="1933.0" cy="329.6" r="4.5"/><circle cx="1936.6" cy="329.6" r="4.5"/></g>
<rect x="1323.6" y="362.6" width="186.8" height="38.9" fill="#d9d9d9" stroke="#333333" stroke-width="1.4"/>
<rect x="1323.6" y="401.5" width="186.8" height="237.8" fill="#fff" stroke="#333333" stroke-width="1.4"/>
<path d="M1322.9 401.5h188.2" stroke="#333333" stroke-width="2.4"/>
<text x="1417.0" y="389.4" font-size="20.7" fill="#1a1a1a" stroke="#1a1a1a" stroke-width="0.3" text-anchor="middle">Endosteal fibro.</text>
<path d="M1324.4 414.8H1509.6M1324.4 436.1H1509.6M1324.4 457.4H1509.6M1324.4 478.7H1509.6M1324.4 500.0H1509.6M1324.4 521.3H1509.6M1324.4 542.6H1509.6M1324.4 563.9H1509.6M1324.4 585.2H1509.6M1324.4 606.5H1509.6M1324.4 627.8H1509.6" stroke="#ababab" stroke-width="2" stroke-dasharray="2 6.05" stroke-dashoffset="-6.25" fill="none"/>
<path d="M1331.8 640.0v6.3M1386.0 640.0v6.3M1441.0 640.0v6.3M1495.6 640.0v6.3" stroke="#333333" stroke-width="2.1" fill="none"/>
<g fill="#2a4a7a"><circle cx="1331.8" cy="414.8" r="4.5"/><circle cx="1331.8" cy="436.1" r="4.5"/><circle cx="1347.0" cy="436.1" r="4.5"/><circle cx="1331.8" cy="457.4" r="4.5"/><circle cx="1427.4" cy="457.4" r="4.5"/><circle cx="1489.6" cy="457.4" r="4.5"/><circle cx="1331.4" cy="478.7" r="4.5"/><circle cx="1340.4" cy="478.7" r="4.5"/><circle cx="1502.0" cy="478.7" r="4.5"/><circle cx="1331.8" cy="500.0" r="4.5"/><circle cx="1331.8" cy="521.3" r="4.5"/><circle cx="1331.8" cy="542.6" r="4.5"/><circle cx="1331.8" cy="563.9" r="4.5"/><circle cx="1331.8" cy="585.2" r="4.5"/><circle cx="1331.8" cy="606.5" r="4.5"/><circle cx="1331.8" cy="627.8" r="4.5"/></g>
<text x="1312.0" y="421.8" font-size="20.6" fill="#444444" stroke="#444444" stroke-width="0.3" text-anchor="end">Grem1–CreER+</text>
<text x="1312.0" y="443.1" font-size="20.6" fill="#444444" stroke="#444444" stroke-width="0.3" text-anchor="end">Grem1–CreER–</text>
<text x="1312.0" y="464.4" font-size="20.6" fill="#444444" stroke="#444444" stroke-width="0.3" text-anchor="end">Nes–GFP low</text>
<text x="1312.0" y="485.7" font-size="20.6" fill="#444444" stroke="#444444" stroke-width="0.3" text-anchor="end">Nes–GFP high</text>
<text x="1312.0" y="507.0" font-size="20.6" fill="#444444" stroke="#444444" stroke-width="0.3" text-anchor="end">Cxcl12–GFP</text>
<text x="1312.0" y="528.3" font-size="20.6" fill="#444444" stroke="#444444" stroke-width="0.3" text-anchor="end">total BM</text>
<text x="1312.0" y="549.6" font-size="20.6" fill="#444444" stroke="#444444" stroke-width="0.3" text-anchor="end">Scf–GFP</text>
<text x="1312.0" y="570.9" font-size="20.6" fill="#444444" stroke="#444444" stroke-width="0.3" text-anchor="end">Myh11–CreER</text>
<text x="1312.0" y="592.2" font-size="20.6" fill="#444444" stroke="#444444" stroke-width="0.3" text-anchor="end">NG2–Cre</text>
<text x="1312.0" y="613.5" font-size="20.6" fill="#444444" stroke="#444444" stroke-width="0.3" text-anchor="end">LepR–Cre</text>
<text x="1312.0" y="634.8" font-size="20.6" fill="#444444" stroke="#444444" stroke-width="0.3" text-anchor="end">Cd31+</text>
<path d="M1316.8 414.8h6.5M1316.8 436.1h6.5M1316.8 457.4h6.5M1316.8 478.7h6.5M1316.8 500.0h6.5M1316.8 521.3h6.5M1316.8 542.6h6.5M1316.8 563.9h6.5M1316.8 585.2h6.5M1316.8 606.5h6.5M1316.8 627.8h6.5" stroke="#333333" stroke-width="2.1" fill="none"/>
<rect x="1524.1" y="362.6" width="186.8" height="38.9" fill="#d9d9d9" stroke="#333333" stroke-width="1.4"/>
<rect x="1524.1" y="401.5" width="186.8" height="237.8" fill="#fff" stroke="#333333" stroke-width="1.4"/>
<path d="M1523.4 401.5h188.2" stroke="#333333" stroke-width="2.4"/>
<text x="1617.5" y="389.4" font-size="20.7" fill="#1a1a1a" stroke="#1a1a1a" stroke-width="0.3" text-anchor="middle">Myofibroblasts</text>
<path d="M1524.9 414.8H1710.1M1524.9 436.1H1710.1M1524.9 457.4H1710.1M1524.9 478.7H1710.1M1524.9 500.0H1710.1M1524.9 521.3H1710.1M1524.9 542.6H1710.1M1524.9 563.9H1710.1M1524.9 585.2H1710.1M1524.9 606.5H1710.1M1524.9 627.8H1710.1" stroke="#ababab" stroke-width="2" stroke-dasharray="2 6.05" stroke-dashoffset="-6.25" fill="none"/>
<path d="M1531.6 640.0v6.3M1587.2 640.0v6.3M1642.6 640.0v6.3M1698.0 640.0v6.3" stroke="#333333" stroke-width="2.1" fill="none"/>
<g fill="#000000"><circle cx="1675.6" cy="414.8" r="4.5"/><circle cx="1678.6" cy="414.8" r="4.5"/><circle cx="1702.4" cy="414.8" r="4.5"/><circle cx="1564.2" cy="436.1" r="4.5"/><circle cx="1585.0" cy="436.1" r="4.5"/><circle cx="1590.0" cy="436.1" r="4.5"/><circle cx="1532.0" cy="457.4" r="4.5"/><circle cx="1532.0" cy="478.7" r="4.5"/><circle cx="1532.0" cy="500.0" r="4.5"/><circle cx="1532.0" cy="521.3" r="4.5"/><circle cx="1532.0" cy="542.6" r="4.5"/><circle cx="1532.0" cy="563.9" r="4.5"/><circle cx="1532.0" cy="585.2" r="4.5"/><circle cx="1532.0" cy="606.5" r="4.5"/><circle cx="1532.0" cy="627.8" r="4.5"/></g>
<rect x="1724.5" y="362.6" width="186.8" height="38.9" fill="#d9d9d9" stroke="#333333" stroke-width="1.4"/>
<rect x="1724.5" y="401.5" width="186.8" height="237.8" fill="#fff" stroke="#333333" stroke-width="1.4"/>
<path d="M1723.8 401.5h188.2" stroke="#333333" stroke-width="2.4"/>
<text x="1817.9" y="389.4" font-size="20.7" fill="#1a1a1a" stroke="#1a1a1a" stroke-width="0.3" text-anchor="middle">Ng2+ MSCs</text>
<path d="M1725.3 414.8H1910.5M1725.3 436.1H1910.5M1725.3 457.4H1910.5M1725.3 478.7H1910.5M1725.3 500.0H1910.5M1725.3 521.3H1910.5M1725.3 542.6H1910.5M1725.3 563.9H1910.5M1725.3 585.2H1910.5M1725.3 606.5H1910.5M1725.3 627.8H1910.5" stroke="#ababab" stroke-width="2" stroke-dasharray="2 6.05" stroke-dashoffset="-6.25" fill="none"/>
<path d="M1732.6 640.0v6.3M1778.4 640.0v6.3M1824.6 640.0v6.3M1870.6 640.0v6.3" stroke="#333333" stroke-width="2.1" fill="none"/>
<g fill="#a856f0"><circle cx="1732.6" cy="414.8" r="4.5"/><circle cx="1743.8" cy="414.8" r="4.5"/><circle cx="1755.6" cy="414.8" r="4.5"/><circle cx="1737.4" cy="436.1" r="4.5"/><circle cx="1747.0" cy="436.1" r="4.5"/><circle cx="1750.0" cy="436.1" r="4.5"/><circle cx="1753.4" cy="436.1" r="4.5"/><circle cx="1784.2" cy="457.4" r="4.5"/><circle cx="1799.6" cy="457.4" r="4.5"/><circle cx="1885.8" cy="457.4" r="4.5"/><circle cx="1732.6" cy="478.7" r="4.5"/><circle cx="1777.4" cy="478.7" r="4.5"/><circle cx="1794.0" cy="478.7" r="4.5"/><circle cx="1732.6" cy="500.0" r="4.5"/><circle cx="1772.8" cy="500.0" r="4.5"/><circle cx="1734.0" cy="521.3" r="4.5"/><circle cx="1739.0" cy="521.3" r="4.5"/><circle cx="1742.6" cy="521.3" r="4.5"/><circle cx="1732.6" cy="542.6" r="4.5"/><circle cx="1758.4" cy="542.6" r="4.5"/><circle cx="1758.4" cy="563.9" r="4.5"/><circle cx="1766.0" cy="563.9" r="4.5"/><circle cx="1849.2" cy="585.2" r="4.5"/><circle cx="1903.0" cy="585.2" r="4.5"/><circle cx="1732.6" cy="606.5" r="4.5"/><circle cx="1745.6" cy="606.5" r="4.5"/><circle cx="1760.0" cy="627.8" r="4.5"/><circle cx="1764.0" cy="627.8" r="4.5"/></g>
<rect x="1925.0" y="362.6" width="186.8" height="38.9" fill="#d9d9d9" stroke="#333333" stroke-width="1.4"/>
<rect x="1925.0" y="401.5" width="186.8" height="237.8" fill="#fff" stroke="#333333" stroke-width="1.4"/>
<path d="M1924.3 401.5h188.2" stroke="#333333" stroke-width="2.4"/>
<text x="2018.4" y="389.4" font-size="20.7" fill="#1a1a1a" stroke="#1a1a1a" stroke-width="0.3" text-anchor="middle">Osteo–CAR</text>
<path d="M1925.8 414.8H2111.0M1925.8 436.1H2111.0M1925.8 457.4H2111.0M1925.8 478.7H2111.0M1925.8 500.0H2111.0M1925.8 521.3H2111.0M1925.8 542.6H2111.0M1925.8 563.9H2111.0M1925.8 585.2H2111.0M1925.8 606.5H2111.0M1925.8 627.8H2111.0" stroke="#ababab" stroke-width="2" stroke-dasharray="2 6.05" stroke-dashoffset="-6.25" fill="none"/>
<path d="M1933.0 640.0v6.3M1983.0 640.0v6.3M2033.4 640.0v6.3M2083.4 640.0v6.3" stroke="#333333" stroke-width="2.1" fill="none"/>
<g fill="#ee1111"><circle cx="1956.2" cy="414.8" r="4.5"/><circle cx="1977.0" cy="414.8" r="4.5"/><circle cx="1986.4" cy="414.8" r="4.5"/><circle cx="1933.0" cy="436.1" r="4.5"/><circle cx="1933.0" cy="457.4" r="4.5"/><circle cx="1933.0" cy="478.7" r="4.5"/><circle cx="2081.0" cy="500.0" r="4.5"/><circle cx="2103.4" cy="500.0" r="4.5"/><circle cx="1933.0" cy="521.3" r="4.5"/><circle cx="2018.2" cy="542.6" r="4.5"/><circle cx="2057.8" cy="542.6" r="4.5"/><circle cx="2102.8" cy="542.6" r="4.5"/><circle cx="1936.6" cy="563.9" r="4.5"/><circle cx="1940.0" cy="563.9" r="4.5"/><circle cx="1944.6" cy="585.2" r="4.5"/><circle cx="1969.4" cy="585.2" r="4.5"/><circle cx="1933.0" cy="606.5" r="4.5"/><circle cx="1933.0" cy="627.8" r="4.5"/><circle cx="1934.6" cy="627.8" r="4.5"/></g>
<rect x="1323.6" y="660.6" width="186.8" height="38.9" fill="#d9d9d9" stroke="#333333" stroke-width="1.4"/>
<rect x="1323.6" y="699.5" width="186.8" height="237.8" fill="#fff" stroke="#333333" stroke-width="1.4"/>
<path d="M1322.9 699.5h188.2" stroke="#333333" stroke-width="2.4"/>
<text x="1417.0" y="687.4" font-size="20.7" fill="#1a1a1a" stroke="#1a1a1a" stroke-width="0.3" text-anchor="middle">Osteoblasts</text>
<path d="M1324.4 713.0H1509.6M1324.4 734.3H1509.6M1324.4 755.6H1509.6M1324.4 776.9H1509.6M1324.4 798.2H1509.6M1324.4 819.5H1509.6M1324.4 840.8H1509.6M1324.4 862.1H1509.6M1324.4 883.4H1509.6M1324.4 904.7H1509.6M1324.4 926.0H1509.6" stroke="#ababab" stroke-width="2" stroke-dasharray="2 6.05" stroke-dashoffset="-6.25" fill="none"/>
<path d="M1331.8 938.0v6.3M1367.2 938.0v6.3M1402.6 938.0v6.3M1438.0 938.0v6.3M1473.6 938.0v6.3M1508.6 938.0v6.3" stroke="#333333" stroke-width="2.1" fill="none"/>
<g fill="#1262e7"><circle cx="1334.4" cy="713.0" r="4.5"/><circle cx="1342.0" cy="713.0" r="4.5"/><circle cx="1356.4" cy="713.0" r="4.5"/><circle cx="1343.0" cy="734.3" r="4.5"/><circle cx="1346.0" cy="734.3" r="4.5"/><circle cx="1350.6" cy="734.3" r="4.5"/><circle cx="1331.8" cy="755.6" r="4.5"/><circle cx="1379.8" cy="755.6" r="4.5"/><circle cx="1399.8" cy="755.6" r="4.5"/><circle cx="1331.8" cy="776.9" r="4.5"/><circle cx="1422.6" cy="776.9" r="4.5"/><circle cx="1502.2" cy="776.9" r="4.5"/><circle cx="1331.8" cy="798.2" r="4.5"/><circle cx="1332.2" cy="819.5" r="4.5"/><circle cx="1331.8" cy="840.8" r="4.5"/><circle cx="1348.8" cy="862.1" r="4.5"/><circle cx="1389.4" cy="862.1" r="4.5"/><circle cx="1331.8" cy="883.4" r="4.5"/><circle cx="1360.6" cy="883.4" r="4.5"/><circle cx="1333.2" cy="904.7" r="4.5"/><circle cx="1331.8" cy="926.0" r="4.5"/></g>
<text x="1312.0" y="720.0" font-size="20.6" fill="#444444" stroke="#444444" stroke-width="0.3" text-anchor="end">Grem1–CreER+</text>
<text x="1312.0" y="741.3" font-size="20.6" fill="#444444" stroke="#444444" stroke-width="0.3" text-anchor="end">Grem1–CreER–</text>
<text x="1312.0" y="762.6" font-size="20.6" fill="#444444" stroke="#444444" stroke-width="0.3" text-anchor="end">Nes–GFP low</text>
<text x="1312.0" y="783.9" font-size="20.6" fill="#444444" stroke="#444444" stroke-width="0.3" text-anchor="end">Nes–GFP high</text>
<text x="1312.0" y="805.2" font-size="20.6" fill="#444444" stroke="#444444" stroke-width="0.3" text-anchor="end">Cxcl12–GFP</text>
<text x="1312.0" y="826.5" font-size="20.6" fill="#444444" stroke="#444444" stroke-width="0.3" text-anchor="end">total BM</text>
<text x="1312.0" y="847.8" font-size="20.6" fill="#444444" stroke="#444444" stroke-width="0.3" text-anchor="end">Scf–GFP</text>
<text x="1312.0" y="869.1" font-size="20.6" fill="#444444" stroke="#444444" stroke-width="0.3" text-anchor="end">Myh11–CreER</text>
<text x="1312.0" y="890.4" font-size="20.6" fill="#444444" stroke="#444444" stroke-width="0.3" text-anchor="end">NG2–Cre</text>
<text x="1312.0" y="911.7" font-size="20.6" fill="#444444" stroke="#444444" stroke-width="0.3" text-anchor="end">LepR–Cre</text>
<text x="1312.0" y="933.0" font-size="20.6" fill="#444444" stroke="#444444" stroke-width="0.3" text-anchor="end">Cd31+</text>
<path d="M1316.8 713.0h6.5M1316.8 734.3h6.5M1316.8 755.6h6.5M1316.8 776.9h6.5M1316.8 798.2h6.5M1316.8 819.5h6.5M1316.8 840.8h6.5M1316.8 862.1h6.5M1316.8 883.4h6.5M1316.8 904.7h6.5M1316.8 926.0h6.5" stroke="#333333" stroke-width="2.1" fill="none"/>
<rect x="1524.1" y="660.6" width="186.8" height="38.9" fill="#d9d9d9" stroke="#333333" stroke-width="1.4"/>
<rect x="1524.1" y="699.5" width="186.8" height="237.8" fill="#fff" stroke="#333333" stroke-width="1.4"/>
<path d="M1523.4 699.5h188.2" stroke="#333333" stroke-width="2.4"/>
<text x="1617.5" y="687.4" font-size="20.7" fill="#1a1a1a" stroke="#1a1a1a" stroke-width="0.3" text-anchor="middle">Sinusoidal ECs</text>
<path d="M1524.9 713.0H1710.1M1524.9 734.3H1710.1M1524.9 755.6H1710.1M1524.9 776.9H1710.1M1524.9 798.2H1710.1M1524.9 819.5H1710.1M1524.9 840.8H1710.1M1524.9 862.1H1710.1M1524.9 883.4H1710.1M1524.9 904.7H1710.1M1524.9 926.0H1710.1" stroke="#ababab" stroke-width="2" stroke-dasharray="2 6.05" stroke-dashoffset="-6.25" fill="none"/>
<path d="M1531.6 938.0v6.3M1581.0 938.0v6.3M1630.0 938.0v6.3M1679.2 938.0v6.3" stroke="#333333" stroke-width="2.1" fill="none"/>
<g fill="#f5e61f"><circle cx="1533.8" cy="713.0" r="4.5"/><circle cx="1532.4" cy="734.3" r="4.5"/><circle cx="1536.0" cy="734.3" r="4.5"/><circle cx="1539.0" cy="734.3" r="4.5"/><circle cx="1542.0" cy="734.3" r="4.5"/><circle cx="1532.0" cy="755.6" r="4.5"/><circle cx="1532.0" cy="776.9" r="4.5"/><circle cx="1532.0" cy="798.2" r="4.5"/><circle cx="1532.0" cy="819.5" r="4.5"/><circle cx="1537.0" cy="840.8" r="4.5"/><circle cx="1540.0" cy="840.8" r="4.5"/><circle cx="1543.0" cy="840.8" r="4.5"/><circle cx="1545.0" cy="840.8" r="4.5"/><circle cx="1532.0" cy="862.1" r="4.5"/><circle cx="1532.0" cy="883.4" r="4.5"/><circle cx="1532.0" cy="904.7" r="4.5"/><circle cx="1688.4" cy="926.0" r="4.5"/><circle cx="1702.4" cy="926.0" r="4.5"/></g>
<rect x="1724.5" y="660.6" width="186.8" height="38.9" fill="#d9d9d9" stroke="#333333" stroke-width="1.4"/>
<rect x="1724.5" y="699.5" width="186.8" height="237.8" fill="#fff" stroke="#333333" stroke-width="1.4"/>
<path d="M1723.8 699.5h188.2" stroke="#333333" stroke-width="2.4"/>
<text x="1817.9" y="687.4" font-size="20.7" fill="#1a1a1a" stroke="#1a1a1a" stroke-width="0.3" text-anchor="middle">Smooth muscle</text>
<path d="M1725.3 713.0H1910.5M1725.3 734.3H1910.5M1725.3 755.6H1910.5M1725.3 776.9H1910.5M1725.3 798.2H1910.5M1725.3 819.5H1910.5M1725.3 840.8H1910.5M1725.3 862.1H1910.5M1725.3 883.4H1910.5M1725.3 904.7H1910.5M1725.3 926.0H1910.5" stroke="#ababab" stroke-width="2" stroke-dasharray="2 6.05" stroke-dashoffset="-6.25" fill="none"/>
<path d="M1732.6 938.0v6.3M1776.0 938.0v6.3M1819.0 938.0v6.3M1862.4 938.0v6.3M1905.6 938.0v6.3" stroke="#333333" stroke-width="2.1" fill="none"/>
<g fill="#f02e68"><circle cx="1732.6" cy="713.0" r="4.5"/><circle cx="1736.0" cy="713.0" r="4.5"/><circle cx="1736.0" cy="734.3" r="4.5"/><circle cx="1739.0" cy="734.3" r="4.5"/><circle cx="1737.2" cy="755.6" r="4.5"/><circle cx="1749.0" cy="755.6" r="4.5"/><circle cx="1763.0" cy="755.6" r="4.5"/><circle cx="1738.6" cy="776.9" r="4.5"/><circle cx="1742.0" cy="776.9" r="4.5"/><circle cx="1756.0" cy="776.9" r="4.5"/><circle cx="1732.6" cy="798.2" r="4.5"/><circle cx="1733.0" cy="819.5" r="4.5"/><circle cx="1736.0" cy="819.5" r="4.5"/><circle cx="1732.6" cy="840.8" r="4.5"/><circle cx="1809.2" cy="862.1" r="4.5"/><circle cx="1903.0" cy="862.1" r="4.5"/><circle cx="1732.6" cy="883.4" r="4.5"/><circle cx="1734.4" cy="883.4" r="4.5"/><circle cx="1732.6" cy="904.7" r="4.5"/><circle cx="1732.6" cy="926.0" r="4.5"/></g>
<rect x="1925.0" y="660.6" width="186.8" height="38.9" fill="#d9d9d9" stroke="#333333" stroke-width="1.4"/>
<rect x="1925.0" y="699.5" width="186.8" height="237.8" fill="#fff" stroke="#333333" stroke-width="1.4"/>
<path d="M1924.3 699.5h188.2" stroke="#333333" stroke-width="2.4"/>
<text x="2018.4" y="687.4" font-size="20.7" fill="#1a1a1a" stroke="#1a1a1a" stroke-width="0.3" text-anchor="middle">Stromal fibro.</text>
<path d="M1925.8 713.0H2111.0M1925.8 734.3H2111.0M1925.8 755.6H2111.0M1925.8 776.9H2111.0M1925.8 798.2H2111.0M1925.8 819.5H2111.0M1925.8 840.8H2111.0M1925.8 862.1H2111.0M1925.8 883.4H2111.0M1925.8 904.7H2111.0M1925.8 926.0H2111.0" stroke="#ababab" stroke-width="2" stroke-dasharray="2 6.05" stroke-dashoffset="-6.25" fill="none"/>
<path d="M1933.0 938.0v6.3M1993.6 938.0v6.3M2054.4 938.0v6.3" stroke="#333333" stroke-width="2.1" fill="none"/>
<g fill="#485f86"><circle cx="1933.0" cy="713.0" r="4.5"/><circle cx="1933.0" cy="734.3" r="4.5"/><circle cx="1933.0" cy="755.6" r="4.5"/><circle cx="1933.0" cy="776.9" r="4.5"/><circle cx="1933.0" cy="798.2" r="4.5"/><circle cx="2103.4" cy="798.2" r="4.5"/><circle cx="1933.0" cy="819.5" r="4.5"/><circle cx="1933.0" cy="840.8" r="4.5"/><circle cx="1933.0" cy="862.1" r="4.5"/><circle cx="1933.0" cy="883.4" r="4.5"/><circle cx="1933.0" cy="904.7" r="4.5"/><circle cx="1933.0" cy="926.0" r="4.5"/></g>
<text x="1151.2" y="520.7" font-size="26.2" fill="#000" stroke="#000" stroke-width="0.3" text-anchor="middle" transform="rotate(-90 1151.2 520.7)">Bulk transcriptomes (literature)</text>
<text x="1717.5" y="970.6" font-size="26.3" fill="#000" stroke="#000" stroke-width="0.3" text-anchor="middle">CIBERSORT estimate (a.u.)</text>
<path d="M3.8 1021V1459.2H2094" stroke="#e2e2e2" stroke-width="1.6" fill="none"/>
<text x="4.2" y="1030.4" font-size="44.5" fill="#000" font-weight="bold">c</text>
<rect x="75.7" y="1023.2" width="513.8" height="366.0" fill="#fff" stroke="#333333" stroke-width="1.1"/>
<text x="66.3" y="1379.3" font-size="18.3" fill="#444444" stroke="#444444" stroke-width="0.3" text-anchor="end">6</text>
<text x="66.3" y="1295.9" font-size="18.3" fill="#444444" stroke="#444444" stroke-width="0.3" text-anchor="end">7</text>
<text x="66.3" y="1212.5" font-size="18.3" fill="#444444" stroke="#444444" stroke-width="0.3" text-anchor="end">8</text>
<text x="66.3" y="1129.2" font-size="18.3" fill="#444444" stroke="#444444" stroke-width="0.3" text-anchor="end">9</text>
<text x="66.3" y="1045.8" font-size="18.3" fill="#444444" stroke="#444444" stroke-width="0.3" text-anchor="end">10</text>
<path d="M70.3 1372.8h5.4M70.3 1289.4h5.4M70.3 1206.0h5.4M70.3 1122.7h5.4M70.3 1039.3h5.4M103.0 1389.2v5.6M153.9 1389.2v5.6M204.9 1389.2v5.6M255.8 1389.2v5.6M306.8 1389.2v5.6M357.7 1389.2v5.6M408.6 1389.2v5.6M459.6 1389.2v5.6M510.5 1389.2v5.6M561.5 1389.2v5.6" stroke="#333333" stroke-width="1.6" fill="none"/>
<text x="103.0" y="1412.8" font-size="18.3" fill="#444444" stroke="#444444" stroke-width="0.3" text-anchor="middle">3</text>
<text x="153.9" y="1412.8" font-size="18.3" fill="#444444" stroke="#444444" stroke-width="0.3" text-anchor="middle">4</text>
<text x="204.9" y="1412.8" font-size="18.3" fill="#444444" stroke="#444444" stroke-width="0.3" text-anchor="middle">5</text>
<text x="255.8" y="1412.8" font-size="18.3" fill="#444444" stroke="#444444" stroke-width="0.3" text-anchor="middle">6</text>
<text x="306.8" y="1412.8" font-size="18.3" fill="#444444" stroke="#444444" stroke-width="0.3" text-anchor="middle">7</text>
<text x="357.7" y="1412.8" font-size="18.3" fill="#444444" stroke="#444444" stroke-width="0.3" text-anchor="middle">8</text>
<text x="408.6" y="1412.8" font-size="18.3" fill="#444444" stroke="#444444" stroke-width="0.3" text-anchor="middle">9</text>
<text x="459.6" y="1412.8" font-size="18.3" fill="#444444" stroke="#444444" stroke-width="0.3" text-anchor="middle">10</text>
<text x="510.5" y="1412.8" font-size="18.3" fill="#444444" stroke="#444444" stroke-width="0.3" text-anchor="middle">11</text>
<text x="561.5" y="1412.8" font-size="18.3" fill="#444444" stroke="#444444" stroke-width="0.3" text-anchor="middle">12</text>
<text x="332.6" y="1440.7" font-size="22.5" fill="#000" stroke="#000" stroke-width="0.3" text-anchor="middle">K</text>
<text x="32.2" y="1206.5" font-size="22.5" fill="#000" stroke="#000" stroke-width="0.3" text-anchor="middle" transform="rotate(-90 32.2 1206.5)">CV error</text>
<path d="M75.7 1321.7H589.5" stroke="#d0221f" stroke-width="1.8"/>
<path d="M459.6 1214.4V1328.7M454.4 1214.4h10.4M454.4 1328.7h10.4M510.5 1039.3V1328.7M505.3 1039.3h10.4M505.3 1328.7h10.4M561.5 1039.3V1309.2M556.3 1039.3h10.4M556.3 1309.2h10.4M306.8 1310.3V1313.5M301.6 1310.3h10.4M301.6 1313.5h10.4" stroke="#000" stroke-width="2" fill="none"/>
<g fill="#000"><circle cx="103.0" cy="1242.7" r="4.8"/><circle cx="153.9" cy="1277.5" r="4.8"/><circle cx="204.9" cy="1296.5" r="4.8"/><circle cx="255.8" cy="1311.3" r="4.8"/><circle cx="306.8" cy="1312.9" r="4.8"/><circle cx="357.7" cy="1039.3" r="4.8"/><circle cx="408.6" cy="1322.0" r="4.8"/><circle cx="459.6" cy="1305.5" r="4.8"/><circle cx="510.5" cy="1186.7" r="4.8"/><circle cx="561.5" cy="1039.3" r="4.8"/></g>
<text x="608.2" y="1029.6" font-size="44.5" fill="#000" font-weight="bold">d</text>
<rect x="646.6" y="1023.3" width="507.1" height="390.2" fill="#fff" stroke="#333333" stroke-width="1.1"/>
<text x="899.3" y="1441.5" font-size="22.5" fill="#000" stroke="#000" stroke-width="0.3" text-anchor="middle">t–SNE1</text>
<text x="629.8" y="1219.3" font-size="22.5" fill="#000" stroke="#000" stroke-width="0.3" text-anchor="middle" transform="rotate(-90 629.8 1219.3)">t–SNE2</text>
<text x="1188.0" y="1059.3" font-size="22.5" fill="#000" stroke="#000" stroke-width="0.3">SOUP cluster</text>
<circle cx="1205.9" cy="1092.6" r="4.6" fill="#F8766D"/>
<text x="1235.3" y="1099.0" font-size="18" fill="#000" stroke="#000" stroke-width="0.3">1</text>
<circle cx="1205.9" cy="1128.4" r="4.6" fill="#D39200"/>
<text x="1235.3" y="1134.8" font-size="18" fill="#000" stroke="#000" stroke-width="0.3">2</text>
<circle cx="1205.9" cy="1164.3" r="4.6" fill="#93AA00"/>
<text x="1235.3" y="1170.7" font-size="18" fill="#000" stroke="#000" stroke-width="0.3">3</text>
<circle cx="1205.9" cy="1200.1" r="4.6" fill="#00BA38"/>
<text x="1235.3" y="1206.5" font-size="18" fill="#000" stroke="#000" stroke-width="0.3">4</text>
<circle cx="1205.9" cy="1235.9" r="4.6" fill="#00C19F"/>
<text x="1235.3" y="1242.3" font-size="18" fill="#000" stroke="#000" stroke-width="0.3">5</text>
<circle cx="1205.9" cy="1271.8" r="4.6" fill="#00B9E3"/>
<text x="1235.3" y="1278.2" font-size="18" fill="#000" stroke="#000" stroke-width="0.3">6</text>
<circle cx="1205.9" cy="1307.6" r="4.6" fill="#619CFF"/>
<text x="1235.3" y="1314.0" font-size="18" fill="#000" stroke="#000" stroke-width="0.3">7</text>
<circle cx="1205.9" cy="1343.4" r="4.6" fill="#DB72FB"/>
<text x="1235.3" y="1349.8" font-size="18" fill="#000" stroke="#000" stroke-width="0.3">8</text>
<circle cx="1205.9" cy="1379.2" r="4.6" fill="#FF61C3"/>
<text x="1235.3" y="1385.6" font-size="18" fill="#000" stroke="#000" stroke-width="0.3">9</text>
<g fill="#619CFF"><circle cx="797.4" cy="1041.7" r="4.8"/><circle cx="773.9" cy="1061.9" r="4.8"/><circle cx="676.3" cy="1071.6" r="4.8"/><circle cx="782.3" cy="1064.0" r="4.8"/><circle cx="839.8" cy="1056.6" r="4.8"/><circle cx="727.4" cy="1092.8" r="4.8"/><circle cx="701.3" cy="1076.7" r="4.8"/><circle cx="794.9" cy="1062.3" r="4.8"/><circle cx="728.6" cy="1076.9" r="4.8"/><circle cx="757.0" cy="1057.3" r="4.8"/><circle cx="714.3" cy="1076.2" r="4.8"/><circle cx="813.4" cy="1056.5" r="4.8"/><circle cx="695.5" cy="1070.3" r="4.8"/><circle cx="672.4" cy="1082.6" r="4.8"/><circle cx="820.6" cy="1076.1" r="4.8"/><circle cx="843.3" cy="1058.3" r="4.8"/><circle cx="806.5" cy="1077.6" r="4.8"/><circle cx="782.9" cy="1068.1" r="4.8"/><circle cx="761.3" cy="1082.3" r="4.8"/><circle cx="676.8" cy="1084.9" r="4.8"/><circle cx="832.3" cy="1056.3" r="4.8"/><circle cx="743.2" cy="1082.7" r="4.8"/><circle cx="680.9" cy="1067.6" r="4.8"/><circle cx="721.3" cy="1065.3" r="4.8"/><circle cx="737.7" cy="1097.4" r="4.8"/><circle cx="712.1" cy="1070.0" r="4.8"/><circle cx="784.8" cy="1054.8" r="4.8"/><circle cx="739.9" cy="1075.6" r="4.8"/><circle cx="859.1" cy="1084.1" r="4.8"/><circle cx="769.7" cy="1079.1" r="4.8"/><circle cx="744.6" cy="1064.1" r="4.8"/><circle cx="789.9" cy="1046.9" r="4.8"/><circle cx="716.0" cy="1060.6" r="4.8"/><circle cx="759.6" cy="1070.0" r="4.8"/><circle cx="734.4" cy="1054.9" r="4.8"/><circle cx="773.2" cy="1090.2" r="4.8"/><circle cx="717.4" cy="1084.3" r="4.8"/><circle cx="859.8" cy="1067.4" r="4.8"/><circle cx="791.9" cy="1098.6" r="4.8"/><circle cx="797.8" cy="1091.6" r="4.8"/><circle cx="681.7" cy="1082.1" r="4.8"/><circle cx="817.7" cy="1069.6" r="4.8"/><circle cx="732.3" cy="1091.7" r="4.8"/><circle cx="736.0" cy="1074.4" r="4.8"/><circle cx="833.2" cy="1051.2" r="4.8"/><circle cx="717.4" cy="1065.5" r="4.8"/><circle cx="736.7" cy="1068.2" r="4.8"/><circle cx="766.9" cy="1073.3" r="4.8"/><circle cx="699.6" cy="1069.3" r="4.8"/><circle cx="731.0" cy="1072.3" r="4.8"/><circle cx="777.9" cy="1090.6" r="4.8"/><circle cx="850.8" cy="1067.2" r="4.8"/><circle cx="769.0" cy="1084.3" r="4.8"/><circle cx="756.8" cy="1073.4" r="4.8"/><circle cx="807.3" cy="1096.9" r="4.8"/><circle cx="689.3" cy="1067.1" r="4.8"/><circle cx="696.0" cy="1085.9" r="4.8"/><circle cx="799.3" cy="1046.6" r="4.8"/><circle cx="745.8" cy="1070.2" r="4.8"/><circle cx="697.4" cy="1066.4" r="4.8"/><circle cx="769.8" cy="1060.0" r="4.8"/><circle cx="777.6" cy="1067.0" r="4.8"/><circle cx="781.0" cy="1084.8" r="4.8"/><circle cx="794.0" cy="1091.8" r="4.8"/><circle cx="772.1" cy="1053.1" r="4.8"/><circle cx="728.2" cy="1057.7" r="4.8"/><circle cx="819.6" cy="1056.7" r="4.8"/><circle cx="808.8" cy="1080.4" r="4.8"/><circle cx="747.1" cy="1060.6" r="4.8"/><circle cx="724.3" cy="1068.3" r="4.8"/><circle cx="863.1" cy="1074.3" r="4.8"/><circle cx="705.5" cy="1071.4" r="4.8"/><circle cx="817.7" cy="1081.9" r="4.8"/><circle cx="814.3" cy="1092.5" r="4.8"/><circle cx="767.5" cy="1094.1" r="4.8"/><circle cx="803.9" cy="1084.3" r="4.8"/><circle cx="778.5" cy="1079.8" r="4.8"/><circle cx="813.4" cy="1050.8" r="4.8"/><circle cx="765.3" cy="1063.0" r="4.8"/><circle cx="769.9" cy="1068.6" r="4.8"/><circle cx="707.5" cy="1076.7" r="4.8"/><circle cx="848.6" cy="1056.6" r="4.8"/><circle cx="740.5" cy="1063.7" r="4.8"/><circle cx="856.6" cy="1074.5" r="4.8"/><circle cx="760.9" cy="1060.3" r="4.8"/><circle cx="725.3" cy="1087.5" r="4.8"/><circle cx="798.4" cy="1057.4" r="4.8"/><circle cx="817.6" cy="1065.1" r="4.8"/><circle cx="749.0" cy="1072.7" r="4.8"/><circle cx="741.4" cy="1060.0" r="4.8"/><circle cx="840.7" cy="1051.6" r="4.8"/><circle cx="847.4" cy="1069.2" r="4.8"/><circle cx="794.4" cy="1084.7" r="4.8"/><circle cx="750.2" cy="1054.4" r="4.8"/><circle cx="733.5" cy="1065.6" r="4.8"/><circle cx="710.0" cy="1065.4" r="4.8"/><circle cx="800.2" cy="1062.7" r="4.8"/><circle cx="721.6" cy="1060.9" r="4.8"/><circle cx="737.3" cy="1093.1" r="4.8"/><circle cx="860.1" cy="1079.1" r="4.8"/><circle cx="752.2" cy="1070.6" r="4.8"/><circle cx="788.5" cy="1059.2" r="4.8"/><circle cx="729.7" cy="1061.6" r="4.8"/><circle cx="684.1" cy="1071.0" r="4.8"/><circle cx="836.2" cy="1056.9" r="4.8"/><circle cx="782.6" cy="1059.1" r="4.8"/><circle cx="768.1" cy="1052.6" r="4.8"/><circle cx="829.6" cy="1081.6" r="4.8"/><circle cx="854.4" cy="1062.3" r="4.8"/><circle cx="841.4" cy="1067.6" r="4.8"/><circle cx="797.5" cy="1050.7" r="4.8"/><circle cx="826.9" cy="1074.4" r="4.8"/><circle cx="745.2" cy="1074.5" r="4.8"/><circle cx="740.2" cy="1071.4" r="4.8"/><circle cx="672.8" cy="1075.4" r="4.8"/><circle cx="792.5" cy="1057.8" r="4.8"/><circle cx="755.7" cy="1066.8" r="4.8"/><circle cx="764.4" cy="1052.9" r="4.8"/><circle cx="803.3" cy="1098.2" r="4.8"/><circle cx="842.8" cy="1074.9" r="4.8"/><circle cx="827.4" cy="1054.9" r="4.8"/><circle cx="784.1" cy="1082.3" r="4.8"/><circle cx="790.3" cy="1066.4" r="4.8"/><circle cx="784.8" cy="1050.8" r="4.8"/><circle cx="779.3" cy="1060.8" r="4.8"/><circle cx="796.3" cy="1067.2" r="4.8"/><circle cx="718.6" cy="1080.8" r="4.8"/><circle cx="816.8" cy="1059.2" r="4.8"/><circle cx="806.8" cy="1087.3" r="4.8"/><circle cx="677.9" cy="1077.3" r="4.8"/><circle cx="729.6" cy="1065.8" r="4.8"/><circle cx="764.8" cy="1091.4" r="4.8"/><circle cx="735.6" cy="1059.2" r="4.8"/><circle cx="799.7" cy="1087.7" r="4.8"/><circle cx="845.2" cy="1053.1" r="4.8"/><circle cx="704.5" cy="1080.5" r="4.8"/><circle cx="693.4" cy="1078.2" r="4.8"/><circle cx="747.1" cy="1087.6" r="4.8"/><circle cx="822.5" cy="1084.8" r="4.8"/><circle cx="684.4" cy="1065.6" r="4.8"/><circle cx="793.0" cy="1053.9" r="4.8"/><circle cx="823.4" cy="1063.4" r="4.8"/><circle cx="774.9" cy="1086.0" r="4.8"/><circle cx="833.8" cy="1072.6" r="4.8"/><circle cx="707.3" cy="1083.7" r="4.8"/><circle cx="750.3" cy="1084.7" r="4.8"/><circle cx="690.8" cy="1090.1" r="4.8"/><circle cx="760.3" cy="1075.3" r="4.8"/><circle cx="736.6" cy="1080.6" r="4.8"/><circle cx="788.7" cy="1090.4" r="4.8"/><circle cx="777.8" cy="1054.9" r="4.8"/><circle cx="800.3" cy="1094.5" r="4.8"/><circle cx="670.2" cy="1078.6" r="4.8"/><circle cx="733.6" cy="1095.9" r="4.8"/><circle cx="732.0" cy="1058.5" r="4.8"/><circle cx="852.7" cy="1078.5" r="4.8"/><circle cx="800.7" cy="1068.2" r="4.8"/><circle cx="830.0" cy="1076.2" r="4.8"/><circle cx="732.3" cy="1078.3" r="4.8"/><circle cx="787.4" cy="1098.3" r="4.8"/><circle cx="822.2" cy="1052.7" r="4.8"/><circle cx="701.3" cy="1084.9" r="4.8"/><circle cx="786.6" cy="1064.0" r="4.8"/><circle cx="785.2" cy="1088.8" r="4.8"/><circle cx="693.0" cy="1067.4" r="4.8"/><circle cx="762.0" cy="1056.4" r="4.8"/><circle cx="829.3" cy="1060.1" r="4.8"/><circle cx="702.4" cy="1066.6" r="4.8"/><circle cx="809.8" cy="1050.2" r="4.8"/><circle cx="689.1" cy="1085.8" r="4.8"/><circle cx="730.0" cy="1085.6" r="4.8"/><circle cx="782.2" cy="1072.6" r="4.8"/><circle cx="726.8" cy="1081.2" r="4.8"/><circle cx="859.7" cy="1072.0" r="4.8"/><circle cx="719.3" cy="1068.8" r="4.8"/><circle cx="682.4" cy="1074.3" r="4.8"/><circle cx="836.0" cy="1078.6" r="4.8"/><circle cx="790.3" cy="1095.1" r="4.8"/><circle cx="815.3" cy="1087.8" r="4.8"/><circle cx="766.5" cy="1067.2" r="4.8"/><circle cx="802.6" cy="1072.8" r="4.8"/><circle cx="845.9" cy="1065.6" r="4.8"/><circle cx="771.2" cy="1093.3" r="4.8"/><circle cx="756.3" cy="1063.2" r="4.8"/><circle cx="848.2" cy="1077.1" r="4.8"/><circle cx="788.7" cy="1051.3" r="4.8"/><circle cx="792.9" cy="1049.2" r="4.8"/><circle cx="726.3" cy="1062.9" r="4.8"/><circle cx="808.0" cy="1092.1" r="4.8"/><circle cx="717.8" cy="1074.3" r="4.8"/><circle cx="722.3" cy="1082.2" r="4.8"/><circle cx="802.6" cy="1078.6" r="4.8"/><circle cx="725.1" cy="1076.0" r="4.8"/><circle cx="787.8" cy="1043.6" r="4.8"/><circle cx="738.6" cy="1056.1" r="4.8"/><circle cx="789.8" cy="1086.5" r="4.8"/><circle cx="774.5" cy="1077.1" r="4.8"/><circle cx="822.9" cy="1058.0" r="4.8"/><circle cx="677.8" cy="1081.1" r="4.8"/><circle cx="796.4" cy="1074.4" r="4.8"/><circle cx="838.8" cy="1071.8" r="4.8"/><circle cx="712.3" cy="1080.0" r="4.8"/><circle cx="761.1" cy="1086.3" r="4.8"/><circle cx="771.5" cy="1073.0" r="4.8"/><circle cx="794.4" cy="1095.7" r="4.8"/><circle cx="826.3" cy="1079.2" r="4.8"/><circle cx="747.8" cy="1081.2" r="4.8"/><circle cx="852.2" cy="1074.9" r="4.8"/><circle cx="803.1" cy="1044.6" r="4.8"/><circle cx="837.1" cy="1052.3" r="4.8"/><circle cx="697.9" cy="1073.5" r="4.8"/><circle cx="714.4" cy="1087.1" r="4.8"/><circle cx="758.0" cy="1053.0" r="4.8"/><circle cx="744.5" cy="1090.6" r="4.8"/><circle cx="809.4" cy="1084.2" r="4.8"/><circle cx="781.9" cy="1093.4" r="4.8"/><circle cx="757.2" cy="1083.6" r="4.8"/><circle cx="746.7" cy="1056.1" r="4.8"/><circle cx="697.9" cy="1080.1" r="4.8"/><circle cx="849.5" cy="1063.0" r="4.8"/><circle cx="760.6" cy="1064.2" r="4.8"/><circle cx="796.9" cy="1099.7" r="4.8"/><circle cx="772.9" cy="1081.4" r="4.8"/><circle cx="799.1" cy="1077.0" r="4.8"/><circle cx="816.5" cy="1075.4" r="4.8"/><circle cx="723.6" cy="1056.6" r="4.8"/><circle cx="780.9" cy="1049.2" r="4.8"/><circle cx="795.6" cy="1080.3" r="4.8"/><circle cx="813.3" cy="1060.2" r="4.8"/><circle cx="688.8" cy="1071.5" r="4.8"/><circle cx="740.3" cy="1067.4" r="4.8"/><circle cx="821.9" cy="1066.8" r="4.8"/><circle cx="751.4" cy="1060.0" r="4.8"/><circle cx="810.9" cy="1088.1" r="4.8"/><circle cx="785.4" cy="1046.7" r="4.8"/><circle cx="743.5" cy="1078.6" r="4.8"/><circle cx="813.6" cy="1081.3" r="4.8"/><circle cx="854.4" cy="1069.3" r="4.8"/><circle cx="816.6" cy="1052.7" r="4.8"/><circle cx="845.4" cy="1062.0" r="4.8"/><circle cx="776.3" cy="1058.3" r="4.8"/><circle cx="777.4" cy="1050.9" r="4.8"/><circle cx="798.1" cy="1083.2" r="4.8"/><circle cx="768.2" cy="1056.6" r="4.8"/><circle cx="763.2" cy="1079.1" r="4.8"/><circle cx="805.6" cy="1047.3" r="4.8"/><circle cx="753.3" cy="1052.4" r="4.8"/><circle cx="857.4" cy="1064.8" r="4.8"/><circle cx="684.8" cy="1085.5" r="4.8"/><circle cx="791.2" cy="1041.2" r="4.8"/><circle cx="713.1" cy="1062.9" r="4.8"/><circle cx="710.7" cy="1085.1" r="4.8"/><circle cx="740.9" cy="1093.6" r="4.8"/><circle cx="734.6" cy="1099.8" r="4.8"/><circle cx="751.4" cy="1065.7" r="4.8"/><circle cx="733.1" cy="1083.5" r="4.8"/><circle cx="769.3" cy="1087.9" r="4.8"/><circle cx="777.6" cy="1073.8" r="4.8"/><circle cx="730.2" cy="1054.7" r="4.8"/><circle cx="772.3" cy="1057.4" r="4.8"/><circle cx="719.8" cy="1087.4" r="4.8"/><circle cx="778.6" cy="1095.0" r="4.8"/><circle cx="821.9" cy="1072.3" r="4.8"/><circle cx="820.2" cy="1061.7" r="4.8"/><circle cx="793.3" cy="1044.5" r="4.8"/><circle cx="694.2" cy="1082.5" r="4.8"/><circle cx="721.2" cy="1072.2" r="4.8"/><circle cx="780.8" cy="1088.4" r="4.8"/><circle cx="783.1" cy="1077.8" r="4.8"/><circle cx="804.4" cy="1090.0" r="4.8"/><circle cx="791.2" cy="1061.9" r="4.8"/><circle cx="841.5" cy="1062.0" r="4.8"/><circle cx="765.0" cy="1082.3" r="4.8"/><circle cx="742.8" cy="1055.9" r="4.8"/><circle cx="810.9" cy="1094.9" r="4.8"/><circle cx="856.3" cy="1080.2" r="4.8"/><circle cx="769.7" cy="1064.2" r="4.8"/><circle cx="709.4" cy="1073.3" r="4.8"/><circle cx="705.8" cy="1063.8" r="4.8"/><circle cx="839.6" cy="1077.2" r="4.8"/><circle cx="823.0" cy="1080.7" r="4.8"/><circle cx="774.0" cy="1068.1" r="4.8"/><circle cx="763.8" cy="1070.8" r="4.8"/><circle cx="727.2" cy="1072.4" r="4.8"/><circle cx="747.2" cy="1077.5" r="4.8"/><circle cx="793.6" cy="1071.9" r="4.8"/><circle cx="851.9" cy="1059.7" r="4.8"/><circle cx="693.5" cy="1073.6" r="4.8"/><circle cx="789.2" cy="1055.2" r="4.8"/><circle cx="785.8" cy="1092.8" r="4.8"/><circle cx="729.2" cy="1089.4" r="4.8"/><circle cx="720.8" cy="1077.4" r="4.8"/><circle cx="804.6" cy="1094.1" r="4.8"/><circle cx="845.8" cy="1072.4" r="4.8"/><circle cx="818.3" cy="1085.6" r="4.8"/><circle cx="766.5" cy="1077.2" r="4.8"/><circle cx="708.5" cy="1068.7" r="4.8"/><circle cx="798.4" cy="1071.0" r="4.8"/><circle cx="850.0" cy="1071.9" r="4.8"/><circle cx="681.9" cy="1078.4" r="4.8"/><circle cx="748.0" cy="1067.3" r="4.8"/><circle cx="719.1" cy="1058.1" r="4.8"/><circle cx="758.4" cy="1079.7" r="4.8"/><circle cx="877.6" cy="1059.7" r="4.8"/><circle cx="859.0" cy="1088.3" r="4.8"/><circle cx="834.4" cy="1107.9" r="4.8"/><circle cx="867.9" cy="1139.4" r="4.8"/><circle cx="889.6" cy="1116.8" r="4.8"/></g>
<g fill="#D39200"><circle cx="844.6" cy="1120.1" r="4.8"/><circle cx="856.0" cy="1111.3" r="4.8"/><circle cx="846.3" cy="1111.3" r="4.8"/><circle cx="857.7" cy="1102.8" r="4.8"/><circle cx="850.6" cy="1103.5" r="4.8"/><circle cx="854.8" cy="1118.3" r="4.8"/><circle cx="841.7" cy="1112.6" r="4.8"/><circle cx="840.1" cy="1109.1" r="4.8"/><circle cx="852.1" cy="1111.1" r="4.8"/><circle cx="854.2" cy="1105.4" r="4.8"/><circle cx="848.3" cy="1115.0" r="4.8"/><circle cx="843.8" cy="1106.8" r="4.8"/><circle cx="848.7" cy="1119.8" r="4.8"/><circle cx="840.7" cy="1119.2" r="4.8"/><circle cx="835.9" cy="1115.9" r="4.8"/><circle cx="861.0" cy="1096.7" r="4.8"/><circle cx="857.4" cy="1115.7" r="4.8"/><circle cx="854.2" cy="1100.2" r="4.8"/><circle cx="836.7" cy="1111.9" r="4.8"/><circle cx="843.9" cy="1115.9" r="4.8"/><circle cx="846.8" cy="1104.2" r="4.8"/><circle cx="849.9" cy="1107.1" r="4.8"/><circle cx="851.9" cy="1116.2" r="4.8"/><circle cx="883.7" cy="1125.3" r="4.8"/><circle cx="879.3" cy="1118.9" r="4.8"/><circle cx="882.9" cy="1120.0" r="4.8"/><circle cx="879.1" cy="1123.3" r="4.8"/><circle cx="880.4" cy="1127.3" r="4.8"/><circle cx="867.0" cy="1068.6" r="4.8"/><circle cx="875.4" cy="1142.2" r="4.8"/><circle cx="887.1" cy="1141.4" r="4.8"/></g>
<g><circle cx="1058.0" cy="1260.2" r="4.8" fill="#DB72FB"/><circle cx="1048.6" cy="1246.1" r="4.8" fill="#DB72FB"/><circle cx="1074.0" cy="1292.6" r="4.8" fill="#DB72FB"/><circle cx="989.7" cy="1275.8" r="4.8" fill="#F8766D"/><circle cx="1096.2" cy="1299.9" r="4.8" fill="#DB72FB"/><circle cx="1023.6" cy="1268.0" r="4.8" fill="#DB72FB"/><circle cx="1046.8" cy="1282.6" r="4.8" fill="#DB72FB"/><circle cx="1083.8" cy="1263.9" r="4.8" fill="#DB72FB"/><circle cx="1043.9" cy="1265.4" r="4.8" fill="#DB72FB"/><circle cx="1027.7" cy="1295.9" r="4.8" fill="#F8766D"/><circle cx="1075.3" cy="1273.4" r="4.8" fill="#F8766D"/><circle cx="1066.6" cy="1267.2" r="4.8" fill="#F8766D"/><circle cx="1046.6" cy="1268.1" r="4.8" fill="#DB72FB"/><circle cx="1118.5" cy="1294.7" r="4.8" fill="#DB72FB"/><circle cx="1078.5" cy="1286.4" r="4.8" fill="#DB72FB"/><circle cx="1092.5" cy="1278.6" r="4.8" fill="#F8766D"/><circle cx="1072.4" cy="1246.3" r="4.8" fill="#DB72FB"/><circle cx="1022.9" cy="1279.4" r="4.8" fill="#F8766D"/><circle cx="1102.0" cy="1308.5" r="4.8" fill="#DB72FB"/><circle cx="1064.4" cy="1275.1" r="4.8" fill="#F8766D"/><circle cx="1076.8" cy="1249.5" r="4.8" fill="#DB72FB"/><circle cx="1101.0" cy="1299.5" r="4.8" fill="#DB72FB"/><circle cx="1023.0" cy="1273.3" r="4.8" fill="#F8766D"/><circle cx="1091.1" cy="1277.8" r="4.8" fill="#DB72FB"/><circle cx="1111.4" cy="1287.8" r="4.8" fill="#DB72FB"/><circle cx="1090.5" cy="1295.4" r="4.8" fill="#DB72FB"/><circle cx="1115.1" cy="1298.8" r="4.8" fill="#DB72FB"/><circle cx="1086.5" cy="1271.8" r="4.8" fill="#DB72FB"/><circle cx="999.7" cy="1285.0" r="4.8" fill="#F8766D"/><circle cx="1044.3" cy="1285.6" r="4.8" fill="#DB72FB"/><circle cx="1054.2" cy="1302.7" r="4.8" fill="#F8766D"/><circle cx="1067.6" cy="1238.6" r="4.8" fill="#DB72FB"/><circle cx="1018.7" cy="1270.9" r="4.8" fill="#F8766D"/><circle cx="1067.2" cy="1285.1" r="4.8" fill="#DB72FB"/><circle cx="1058.5" cy="1248.7" r="4.8" fill="#DB72FB"/><circle cx="1054.5" cy="1241.1" r="4.8" fill="#DB72FB"/><circle cx="1039.3" cy="1264.9" r="4.8" fill="#DB72FB"/><circle cx="1024.5" cy="1285.2" r="4.8" fill="#F8766D"/><circle cx="1017.7" cy="1289.6" r="4.8" fill="#F8766D"/><circle cx="1069.6" cy="1241.5" r="4.8" fill="#DB72FB"/><circle cx="1092.2" cy="1298.6" r="4.8" fill="#DB72FB"/><circle cx="1003.4" cy="1281.9" r="4.8" fill="#F8766D"/><circle cx="1051.1" cy="1260.3" r="4.8" fill="#DB72FB"/><circle cx="1078.8" cy="1295.7" r="4.8" fill="#DB72FB"/><circle cx="991.8" cy="1263.3" r="4.8" fill="#F8766D"/><circle cx="996.0" cy="1283.5" r="4.8" fill="#F8766D"/><circle cx="1057.8" cy="1281.6" r="4.8" fill="#DB72FB"/><circle cx="1065.5" cy="1294.2" r="4.8" fill="#DB72FB"/><circle cx="1061.7" cy="1269.4" r="4.8" fill="#F8766D"/><circle cx="1066.7" cy="1279.6" r="4.8" fill="#F8766D"/><circle cx="1028.3" cy="1273.4" r="4.8" fill="#DB72FB"/><circle cx="1047.4" cy="1274.5" r="4.8" fill="#DB72FB"/><circle cx="1063.3" cy="1247.4" r="4.8" fill="#DB72FB"/><circle cx="1097.9" cy="1308.9" r="4.8" fill="#DB72FB"/><circle cx="1086.0" cy="1289.3" r="4.8" fill="#DB72FB"/><circle cx="1035.3" cy="1272.4" r="4.8" fill="#DB72FB"/><circle cx="1057.8" cy="1297.3" r="4.8" fill="#F8766D"/><circle cx="1078.7" cy="1260.3" r="4.8" fill="#DB72FB"/><circle cx="1045.7" cy="1243.1" r="4.8" fill="#DB72FB"/><circle cx="1079.1" cy="1300.5" r="4.8" fill="#F8766D"/><circle cx="1044.6" cy="1247.0" r="4.8" fill="#DB72FB"/><circle cx="1071.5" cy="1274.9" r="4.8" fill="#F8766D"/><circle cx="1070.8" cy="1286.0" r="4.8" fill="#DB72FB"/><circle cx="1074.1" cy="1283.7" r="4.8" fill="#DB72FB"/><circle cx="1107.3" cy="1287.5" r="4.8" fill="#DB72FB"/><circle cx="1045.6" cy="1301.4" r="4.8" fill="#F8766D"/><circle cx="1050.5" cy="1254.7" r="4.8" fill="#DB72FB"/><circle cx="1105.0" cy="1275.3" r="4.8" fill="#DB72FB"/><circle cx="1035.3" cy="1298.6" r="4.8" fill="#F8766D"/><circle cx="1026.4" cy="1278.2" r="4.8" fill="#F8766D"/><circle cx="1004.9" cy="1274.8" r="4.8" fill="#F8766D"/><circle cx="1071.7" cy="1260.9" r="4.8" fill="#DB72FB"/><circle cx="1082.0" cy="1263.9" r="4.8" fill="#F8766D"/><circle cx="990.9" cy="1266.9" r="4.8" fill="#F8766D"/><circle cx="1068.0" cy="1275.7" r="4.8" fill="#F8766D"/><circle cx="1049.8" cy="1280.4" r="4.8" fill="#DB72FB"/><circle cx="1016.7" cy="1262.7" r="4.8" fill="#F8766D"/><circle cx="1046.5" cy="1278.0" r="4.8" fill="#DB72FB"/><circle cx="1014.0" cy="1269.2" r="4.8" fill="#F8766D"/><circle cx="1080.0" cy="1263.9" r="4.8" fill="#DB72FB"/><circle cx="1035.5" cy="1277.2" r="4.8" fill="#DB72FB"/><circle cx="1060.0" cy="1244.5" r="4.8" fill="#DB72FB"/><circle cx="1055.4" cy="1286.6" r="4.8" fill="#DB72FB"/><circle cx="1130.3" cy="1290.4" r="4.8" fill="#F8766D"/><circle cx="1006.9" cy="1280.2" r="4.8" fill="#F8766D"/><circle cx="1117.3" cy="1282.1" r="4.8" fill="#DB72FB"/><circle cx="1101.7" cy="1295.9" r="4.8" fill="#DB72FB"/><circle cx="1069.0" cy="1295.5" r="4.8" fill="#DB72FB"/><circle cx="1105.2" cy="1300.0" r="4.8" fill="#DB72FB"/><circle cx="1111.9" cy="1306.8" r="4.8" fill="#F8766D"/><circle cx="1094.5" cy="1306.8" r="4.8" fill="#DB72FB"/><circle cx="1080.1" cy="1291.9" r="4.8" fill="#DB72FB"/><circle cx="1042.5" cy="1277.0" r="4.8" fill="#DB72FB"/><circle cx="1067.6" cy="1299.0" r="4.8" fill="#F8766D"/><circle cx="1050.2" cy="1236.6" r="4.8" fill="#DB72FB"/><circle cx="1102.0" cy="1281.5" r="4.8" fill="#DB72FB"/><circle cx="1082.2" cy="1285.5" r="4.8" fill="#DB72FB"/><circle cx="1022.2" cy="1289.3" r="4.8" fill="#F8766D"/><circle cx="1042.0" cy="1289.4" r="4.8" fill="#DB72FB"/><circle cx="1035.3" cy="1256.2" r="4.8" fill="#DB72FB"/><circle cx="1017.5" cy="1285.7" r="4.8" fill="#F8766D"/><circle cx="1105.3" cy="1279.3" r="4.8" fill="#DB72FB"/><circle cx="1073.0" cy="1257.3" r="4.8" fill="#DB72FB"/><circle cx="1098.3" cy="1304.0" r="4.8" fill="#DB72FB"/><circle cx="1091.5" cy="1291.6" r="4.8" fill="#DB72FB"/><circle cx="1059.6" cy="1238.4" r="4.8" fill="#DB72FB"/><circle cx="1038.2" cy="1295.7" r="4.8" fill="#F8766D"/><circle cx="1008.5" cy="1276.5" r="4.8" fill="#F8766D"/><circle cx="1066.8" cy="1250.6" r="4.8" fill="#DB72FB"/><circle cx="1068.3" cy="1272.0" r="4.8" fill="#F8766D"/><circle cx="1030.2" cy="1288.1" r="4.8" fill="#F8766D"/><circle cx="1070.7" cy="1289.7" r="4.8" fill="#DB72FB"/><circle cx="1070.4" cy="1282.2" r="4.8" fill="#DB72FB"/><circle cx="1057.2" cy="1274.6" r="4.8" fill="#F8766D"/><circle cx="1020.0" cy="1265.5" r="4.8" fill="#DB72FB"/><circle cx="1114.6" cy="1294.9" r="4.8" fill="#DB72FB"/><circle cx="1073.2" cy="1239.5" r="4.8" fill="#DB72FB"/><circle cx="1065.0" cy="1242.5" r="4.8" fill="#DB72FB"/><circle cx="1059.3" cy="1286.5" r="4.8" fill="#DB72FB"/><circle cx="1115.3" cy="1286.2" r="4.8" fill="#DB72FB"/><circle cx="1002.0" cy="1264.2" r="4.8" fill="#F8766D"/><circle cx="1074.6" cy="1288.1" r="4.8" fill="#DB72FB"/><circle cx="1016.6" cy="1280.3" r="4.8" fill="#F8766D"/><circle cx="994.7" cy="1273.3" r="4.8" fill="#F8766D"/><circle cx="995.3" cy="1257.4" r="4.8" fill="#F8766D"/><circle cx="994.0" cy="1268.7" r="4.8" fill="#F8766D"/><circle cx="1083.4" cy="1257.3" r="4.8" fill="#DB72FB"/><circle cx="1103.0" cy="1303.4" r="4.8" fill="#DB72FB"/><circle cx="1054.4" cy="1249.3" r="4.8" fill="#DB72FB"/><circle cx="1111.6" cy="1303.2" r="4.8" fill="#DB72FB"/><circle cx="1039.9" cy="1274.0" r="4.8" fill="#DB72FB"/><circle cx="1085.4" cy="1295.0" r="4.8" fill="#DB72FB"/><circle cx="1108.3" cy="1297.1" r="4.8" fill="#DB72FB"/><circle cx="1044.7" cy="1294.4" r="4.8" fill="#F8766D"/><circle cx="1034.0" cy="1291.9" r="4.8" fill="#F8766D"/><circle cx="1099.2" cy="1284.1" r="4.8" fill="#DB72FB"/><circle cx="1055.8" cy="1306.3" r="4.8" fill="#F8766D"/><circle cx="1020.7" cy="1276.3" r="4.8" fill="#F8766D"/><circle cx="1007.3" cy="1254.5" r="4.8" fill="#DB72FB"/><circle cx="1042.2" cy="1297.7" r="4.8" fill="#F8766D"/><circle cx="1043.4" cy="1306.1" r="4.8" fill="#DB72FB"/><circle cx="1035.4" cy="1285.8" r="4.8" fill="#DB72FB"/><circle cx="1084.1" cy="1298.8" r="4.8" fill="#F8766D"/><circle cx="1055.0" cy="1253.3" r="4.8" fill="#DB72FB"/><circle cx="1089.8" cy="1281.2" r="4.8" fill="#DB72FB"/><circle cx="1086.0" cy="1282.2" r="4.8" fill="#DB72FB"/><circle cx="1054.5" cy="1236.6" r="4.8" fill="#DB72FB"/><circle cx="1004.7" cy="1260.2" r="4.8" fill="#F8766D"/><circle cx="1066.8" cy="1258.2" r="4.8" fill="#DB72FB"/><circle cx="1110.8" cy="1299.6" r="4.8" fill="#DB72FB"/><circle cx="1033.9" cy="1281.0" r="4.8" fill="#F8766D"/><circle cx="1032.8" cy="1302.9" r="4.8" fill="#F8766D"/><circle cx="1053.1" cy="1283.1" r="4.8" fill="#DB72FB"/><circle cx="999.8" cy="1259.0" r="4.8" fill="#F8766D"/><circle cx="1003.8" cy="1256.0" r="4.8" fill="#F8766D"/><circle cx="1051.3" cy="1289.3" r="4.8" fill="#DB72FB"/><circle cx="1094.5" cy="1281.3" r="4.8" fill="#DB72FB"/><circle cx="1052.5" cy="1246.3" r="4.8" fill="#DB72FB"/><circle cx="1059.7" cy="1254.2" r="4.8" fill="#DB72FB"/><circle cx="1039.1" cy="1286.8" r="4.8" fill="#DB72FB"/><circle cx="1071.0" cy="1250.2" r="4.8" fill="#DB72FB"/><circle cx="1115.1" cy="1291.1" r="4.8" fill="#DB72FB"/><circle cx="1041.0" cy="1254.4" r="4.8" fill="#DB72FB"/><circle cx="1073.6" cy="1252.8" r="4.8" fill="#DB72FB"/><circle cx="1097.8" cy="1294.5" r="4.8" fill="#DB72FB"/><circle cx="1031.7" cy="1275.2" r="4.8" fill="#DB72FB"/><circle cx="1023.6" cy="1263.7" r="4.8" fill="#DB72FB"/><circle cx="1049.0" cy="1264.9" r="4.8" fill="#DB72FB"/><circle cx="1085.9" cy="1253.8" r="4.8" fill="#DB72FB"/><circle cx="1045.6" cy="1289.4" r="4.8" fill="#DB72FB"/><circle cx="1105.2" cy="1256.4" r="4.8" fill="#F8766D"/><circle cx="1050.4" cy="1301.6" r="4.8" fill="#F8766D"/><circle cx="1039.7" cy="1268.5" r="4.8" fill="#DB72FB"/><circle cx="1017.0" cy="1275.9" r="4.8" fill="#F8766D"/><circle cx="1104.6" cy="1284.6" r="4.8" fill="#DB72FB"/><circle cx="998.1" cy="1265.2" r="4.8" fill="#F8766D"/><circle cx="1030.4" cy="1291.7" r="4.8" fill="#F8766D"/><circle cx="1010.9" cy="1283.1" r="4.8" fill="#F8766D"/><circle cx="1055.9" cy="1245.1" r="4.8" fill="#DB72FB"/><circle cx="1056.4" cy="1263.4" r="4.8" fill="#DB72FB"/><circle cx="1064.0" cy="1300.7" r="4.8" fill="#F8766D"/><circle cx="1121.5" cy="1284.7" r="4.8" fill="#DB72FB"/><circle cx="1061.7" cy="1296.0" r="4.8" fill="#F8766D"/><circle cx="1032.0" cy="1296.2" r="4.8" fill="#F8766D"/><circle cx="1061.1" cy="1292.4" r="4.8" fill="#DB72FB"/><circle cx="1021.0" cy="1284.3" r="4.8" fill="#F8766D"/><circle cx="1069.3" cy="1253.5" r="4.8" fill="#DB72FB"/><circle cx="1057.6" cy="1270.9" r="4.8" fill="#F8766D"/><circle cx="1094.2" cy="1295.5" r="4.8" fill="#DB72FB"/><circle cx="1060.6" cy="1276.9" r="4.8" fill="#F8766D"/><circle cx="1070.0" cy="1266.1" r="4.8" fill="#F8766D"/><circle cx="1032.8" cy="1259.3" r="4.8" fill="#DB72FB"/><circle cx="1099.6" cy="1278.7" r="4.8" fill="#DB72FB"/><circle cx="987.2" cy="1265.4" r="4.8" fill="#F8766D"/><circle cx="1075.0" cy="1243.3" r="4.8" fill="#DB72FB"/><circle cx="1063.8" cy="1238.5" r="4.8" fill="#DB72FB"/><circle cx="1046.5" cy="1258.3" r="4.8" fill="#DB72FB"/><circle cx="1029.1" cy="1282.2" r="4.8" fill="#F8766D"/><circle cx="1037.4" cy="1261.4" r="4.8" fill="#DB72FB"/><circle cx="1066.9" cy="1290.5" r="4.8" fill="#DB72FB"/><circle cx="1086.5" cy="1261.5" r="4.8" fill="#DB72FB"/><circle cx="1083.8" cy="1303.1" r="4.8" fill="#F8766D"/><circle cx="1092.1" cy="1302.3" r="4.8" fill="#DB72FB"/><circle cx="1053.8" cy="1257.1" r="4.8" fill="#DB72FB"/><circle cx="1048.1" cy="1307.1" r="4.8" fill="#DB72FB"/><circle cx="1063.7" cy="1284.1" r="4.8" fill="#DB72FB"/><circle cx="1080.4" cy="1305.8" r="4.8" fill="#F8766D"/><circle cx="1085.8" cy="1267.7" r="4.8" fill="#DB72FB"/><circle cx="1006.5" cy="1267.3" r="4.8" fill="#F8766D"/><circle cx="1013.4" cy="1286.0" r="4.8" fill="#F8766D"/><circle cx="1053.2" cy="1297.0" r="4.8" fill="#F8766D"/><circle cx="1063.6" cy="1254.3" r="4.8" fill="#DB72FB"/><circle cx="1062.5" cy="1288.3" r="4.8" fill="#DB72FB"/><circle cx="1107.2" cy="1307.9" r="4.8" fill="#F8766D"/><circle cx="1038.8" cy="1302.7" r="4.8" fill="#F8766D"/><circle cx="1062.6" cy="1280.0" r="4.8" fill="#F8766D"/><circle cx="1093.0" cy="1286.6" r="4.8" fill="#DB72FB"/><circle cx="1066.0" cy="1253.0" r="4.8" fill="#F8766D"/><circle cx="1106.3" cy="1292.9" r="4.8" fill="#DB72FB"/><circle cx="1119.7" cy="1289.4" r="4.8" fill="#DB72FB"/><circle cx="1098.2" cy="1289.2" r="4.8" fill="#DB72FB"/><circle cx="1091.8" cy="1271.7" r="4.8" fill="#DB72FB"/><circle cx="1088.6" cy="1300.8" r="4.8" fill="#DB72FB"/><circle cx="1043.5" cy="1271.7" r="4.8" fill="#DB72FB"/><circle cx="1072.1" cy="1305.7" r="4.8" fill="#F8766D"/><circle cx="1067.1" cy="1246.6" r="4.8" fill="#DB72FB"/><circle cx="1060.8" cy="1263.3" r="4.8" fill="#DB72FB"/><circle cx="1039.2" cy="1292.2" r="4.8" fill="#DB72FB"/><circle cx="1121.9" cy="1280.4" r="4.8" fill="#DB72FB"/><circle cx="1083.9" cy="1250.4" r="4.8" fill="#DB72FB"/><circle cx="1053.3" cy="1272.2" r="4.8" fill="#F8766D"/><circle cx="1042.5" cy="1282.0" r="4.8" fill="#DB72FB"/><circle cx="1080.0" cy="1282.4" r="4.8" fill="#DB72FB"/><circle cx="1106.7" cy="1303.3" r="4.8" fill="#DB72FB"/><circle cx="1012.1" cy="1279.3" r="4.8" fill="#F8766D"/><circle cx="1055.8" cy="1267.1" r="4.8" fill="#F8766D"/><circle cx="1048.7" cy="1292.1" r="4.8" fill="#DB72FB"/><circle cx="1055.9" cy="1278.2" r="4.8" fill="#F8766D"/><circle cx="1087.5" cy="1276.1" r="4.8" fill="#DB72FB"/><circle cx="1046.4" cy="1253.9" r="4.8" fill="#DB72FB"/><circle cx="1047.7" cy="1250.4" r="4.8" fill="#DB72FB"/><circle cx="998.9" cy="1269.6" r="4.8" fill="#F8766D"/><circle cx="1056.6" cy="1293.2" r="4.8" fill="#F8766D"/><circle cx="1049.4" cy="1241.7" r="4.8" fill="#DB72FB"/><circle cx="1049.4" cy="1297.8" r="4.8" fill="#F8766D"/><circle cx="1089.1" cy="1285.5" r="4.8" fill="#DB72FB"/><circle cx="1076.7" cy="1304.5" r="4.8" fill="#F8766D"/><circle cx="1066.0" cy="1299.4" r="4.8" fill="#DB72FB"/><circle cx="1051.7" cy="1305.5" r="4.8" fill="#F8766D"/><circle cx="1065.0" cy="1263.2" r="4.8" fill="#DB72FB"/><circle cx="1032.0" cy="1284.3" r="4.8" fill="#F8766D"/><circle cx="988.0" cy="1270.2" r="4.8" fill="#F8766D"/><circle cx="1110.2" cy="1283.5" r="4.8" fill="#DB72FB"/><circle cx="1094.7" cy="1275.8" r="4.8" fill="#DB72FB"/><circle cx="997.8" cy="1267.7" r="4.8" fill="#DB72FB"/><circle cx="991.4" cy="1271.7" r="4.8" fill="#F8766D"/><circle cx="1069.3" cy="1303.3" r="4.8" fill="#F8766D"/><circle cx="1000.6" cy="1276.5" r="4.8" fill="#F8766D"/><circle cx="1090.0" cy="1267.1" r="4.8" fill="#DB72FB"/><circle cx="1073.7" cy="1269.3" r="4.8" fill="#F8766D"/><circle cx="1025.7" cy="1291.7" r="4.8" fill="#F8766D"/><circle cx="1082.9" cy="1279.1" r="4.8" fill="#DB72FB"/><circle cx="1102.9" cy="1290.0" r="4.8" fill="#DB72FB"/><circle cx="1058.0" cy="1301.5" r="4.8" fill="#F8766D"/><circle cx="1003.0" cy="1270.8" r="4.8" fill="#F8766D"/><circle cx="1051.2" cy="1269.0" r="4.8" fill="#DB72FB"/><circle cx="1039.2" cy="1279.6" r="4.8" fill="#DB72FB"/><circle cx="1078.7" cy="1279.0" r="4.8" fill="#F8766D"/><circle cx="1010.6" cy="1257.8" r="4.8" fill="#F8766D"/><circle cx="1078.5" cy="1254.8" r="4.8" fill="#DB72FB"/><circle cx="1087.6" cy="1304.6" r="4.8" fill="#DB72FB"/><circle cx="1062.9" cy="1305.3" r="4.8" fill="#F8766D"/><circle cx="1080.1" cy="1244.3" r="4.8" fill="#DB72FB"/><circle cx="1042.6" cy="1257.8" r="4.8" fill="#DB72FB"/><circle cx="992.8" cy="1279.2" r="4.8" fill="#F8766D"/><circle cx="1042.2" cy="1261.4" r="4.8" fill="#DB72FB"/><circle cx="1013.3" cy="1275.7" r="4.8" fill="#F8766D"/><circle cx="996.9" cy="1279.5" r="4.8" fill="#F8766D"/><circle cx="1076.7" cy="1308.4" r="4.8" fill="#F8766D"/><circle cx="1048.4" cy="1285.9" r="4.8" fill="#DB72FB"/><circle cx="1029.2" cy="1261.8" r="4.8" fill="#DB72FB"/><circle cx="1080.2" cy="1250.9" r="4.8" fill="#DB72FB"/><circle cx="1073.9" cy="1278.1" r="4.8" fill="#F8766D"/><circle cx="1076.1" cy="1264.4" r="4.8" fill="#F8766D"/><circle cx="994.9" cy="1261.3" r="4.8" fill="#F8766D"/><circle cx="1044.2" cy="1283.8" r="4.8" fill="#F8766D"/><circle cx="1041.1" cy="1250.6" r="4.8" fill="#DB72FB"/><circle cx="1110.5" cy="1292.1" r="4.8" fill="#DB72FB"/><circle cx="1008.1" cy="1272.7" r="4.8" fill="#F8766D"/><circle cx="1028.3" cy="1299.5" r="4.8" fill="#F8766D"/><circle cx="1061.2" cy="1257.8" r="4.8" fill="#DB72FB"/><circle cx="1051.3" cy="1276.2" r="4.8" fill="#F8766D"/></g>
<g fill="#93AA00"><circle cx="986.9" cy="1214.0" r="4.8"/><circle cx="1033.5" cy="1243.9" r="4.8"/><circle cx="986.8" cy="1200.2" r="4.8"/><circle cx="978.7" cy="1216.2" r="4.8"/><circle cx="995.3" cy="1226.5" r="4.8"/><circle cx="927.2" cy="1229.5" r="4.8"/><circle cx="948.6" cy="1197.1" r="4.8"/><circle cx="968.7" cy="1208.4" r="4.8"/><circle cx="917.7" cy="1235.7" r="4.8"/><circle cx="981.3" cy="1264.2" r="4.8"/><circle cx="1005.0" cy="1235.0" r="4.8"/><circle cx="950.1" cy="1227.0" r="4.8"/><circle cx="994.7" cy="1199.4" r="4.8"/><circle cx="940.9" cy="1228.5" r="4.8"/><circle cx="988.5" cy="1207.1" r="4.8"/><circle cx="976.7" cy="1166.3" r="4.8"/><circle cx="926.9" cy="1241.0" r="4.8"/><circle cx="915.8" cy="1216.8" r="4.8"/><circle cx="968.9" cy="1190.9" r="4.8"/><circle cx="1000.7" cy="1247.9" r="4.8"/><circle cx="899.8" cy="1226.5" r="4.8"/><circle cx="907.6" cy="1241.3" r="4.8"/><circle cx="903.7" cy="1214.1" r="4.8"/><circle cx="959.7" cy="1239.8" r="4.8"/><circle cx="1005.6" cy="1201.7" r="4.8"/><circle cx="965.9" cy="1162.8" r="4.8"/><circle cx="999.7" cy="1240.2" r="4.8"/><circle cx="1035.0" cy="1247.2" r="4.8"/><circle cx="978.6" cy="1235.8" r="4.8"/><circle cx="1005.3" cy="1221.2" r="4.8"/><circle cx="975.1" cy="1247.4" r="4.8"/><circle cx="971.9" cy="1257.2" r="4.8"/><circle cx="984.0" cy="1252.5" r="4.8"/><circle cx="925.6" cy="1237.4" r="4.8"/><circle cx="1016.3" cy="1204.8" r="4.8"/><circle cx="1014.5" cy="1210.0" r="4.8"/><circle cx="1016.6" cy="1215.4" r="4.8"/><circle cx="904.1" cy="1238.6" r="4.8"/><circle cx="1016.3" cy="1253.5" r="4.8"/><circle cx="979.0" cy="1241.4" r="4.8"/><circle cx="992.5" cy="1183.8" r="4.8"/><circle cx="988.4" cy="1248.9" r="4.8"/><circle cx="978.3" cy="1170.0" r="4.8"/><circle cx="933.9" cy="1228.7" r="4.8"/><circle cx="986.1" cy="1189.4" r="4.8"/><circle cx="977.4" cy="1269.6" r="4.8"/><circle cx="921.5" cy="1245.8" r="4.8"/><circle cx="1011.0" cy="1214.9" r="4.8"/><circle cx="975.3" cy="1238.7" r="4.8"/><circle cx="983.0" cy="1225.9" r="4.8"/><circle cx="970.8" cy="1253.5" r="4.8"/><circle cx="965.6" cy="1211.8" r="4.8"/><circle cx="1000.2" cy="1234.4" r="4.8"/><circle cx="967.9" cy="1249.6" r="4.8"/><circle cx="992.7" cy="1252.1" r="4.8"/><circle cx="965.7" cy="1222.7" r="4.8"/><circle cx="961.4" cy="1164.2" r="4.8"/><circle cx="909.8" cy="1232.7" r="4.8"/><circle cx="986.4" cy="1234.9" r="4.8"/><circle cx="949.9" cy="1236.1" r="4.8"/><circle cx="987.7" cy="1154.9" r="4.8"/><circle cx="952.5" cy="1199.3" r="4.8"/><circle cx="1021.0" cy="1250.1" r="4.8"/><circle cx="938.0" cy="1220.8" r="4.8"/><circle cx="982.5" cy="1220.7" r="4.8"/><circle cx="983.6" cy="1248.3" r="4.8"/><circle cx="959.0" cy="1213.4" r="4.8"/><circle cx="901.1" cy="1220.4" r="4.8"/><circle cx="932.1" cy="1225.0" r="4.8"/><circle cx="1018.4" cy="1224.7" r="4.8"/><circle cx="965.6" cy="1258.0" r="4.8"/><circle cx="967.3" cy="1218.2" r="4.8"/><circle cx="988.4" cy="1192.7" r="4.8"/><circle cx="990.6" cy="1218.2" r="4.8"/><circle cx="939.0" cy="1225.3" r="4.8"/><circle cx="997.3" cy="1250.5" r="4.8"/><circle cx="977.3" cy="1179.1" r="4.8"/><circle cx="925.7" cy="1245.9" r="4.8"/><circle cx="939.2" cy="1241.2" r="4.8"/><circle cx="987.6" cy="1254.1" r="4.8"/><circle cx="923.5" cy="1211.7" r="4.8"/><circle cx="990.3" cy="1245.4" r="4.8"/><circle cx="979.4" cy="1204.9" r="4.8"/><circle cx="976.0" cy="1257.9" r="4.8"/><circle cx="968.9" cy="1181.4" r="4.8"/><circle cx="986.5" cy="1243.2" r="4.8"/><circle cx="968.5" cy="1262.8" r="4.8"/><circle cx="897.8" cy="1236.9" r="4.8"/><circle cx="1019.3" cy="1220.0" r="4.8"/><circle cx="970.2" cy="1187.1" r="4.8"/><circle cx="944.1" cy="1212.6" r="4.8"/><circle cx="987.0" cy="1221.3" r="4.8"/><circle cx="959.1" cy="1234.3" r="4.8"/><circle cx="975.2" cy="1233.1" r="4.8"/><circle cx="979.6" cy="1257.0" r="4.8"/><circle cx="977.4" cy="1227.8" r="4.8"/><circle cx="896.6" cy="1220.3" r="4.8"/><circle cx="963.2" cy="1206.0" r="4.8"/><circle cx="949.0" cy="1221.8" r="4.8"/><circle cx="974.4" cy="1213.2" r="4.8"/><circle cx="1003.6" cy="1193.7" r="4.8"/><circle cx="997.9" cy="1217.7" r="4.8"/><circle cx="1005.8" cy="1227.4" r="4.8"/><circle cx="1041.8" cy="1244.8" r="4.8"/><circle cx="989.3" cy="1238.3" r="4.8"/><circle cx="1003.9" cy="1230.7" r="4.8"/><circle cx="905.0" cy="1222.1" r="4.8"/><circle cx="965.3" cy="1200.9" r="4.8"/><circle cx="1018.6" cy="1210.6" r="4.8"/><circle cx="958.8" cy="1245.5" r="4.8"/><circle cx="967.8" cy="1243.0" r="4.8"/><circle cx="986.4" cy="1160.7" r="4.8"/><circle cx="985.8" cy="1183.5" r="4.8"/><circle cx="932.0" cy="1235.7" r="4.8"/><circle cx="1009.5" cy="1225.7" r="4.8"/><circle cx="953.9" cy="1214.1" r="4.8"/><circle cx="1010.8" cy="1233.2" r="4.8"/><circle cx="970.6" cy="1232.2" r="4.8"/><circle cx="1000.2" cy="1229.6" r="4.8"/><circle cx="979.5" cy="1185.7" r="4.8"/><circle cx="992.3" cy="1234.4" r="4.8"/><circle cx="965.3" cy="1236.7" r="4.8"/><circle cx="970.1" cy="1175.7" r="4.8"/><circle cx="989.8" cy="1211.4" r="4.8"/><circle cx="936.7" cy="1232.1" r="4.8"/><circle cx="922.2" cy="1229.8" r="4.8"/><circle cx="955.6" cy="1251.4" r="4.8"/><circle cx="1022.6" cy="1254.3" r="4.8"/><circle cx="962.0" cy="1197.9" r="4.8"/><circle cx="934.2" cy="1221.3" r="4.8"/><circle cx="926.7" cy="1225.3" r="4.8"/><circle cx="901.0" cy="1233.6" r="4.8"/><circle cx="988.6" cy="1186.5" r="4.8"/><circle cx="969.9" cy="1226.3" r="4.8"/><circle cx="1000.5" cy="1222.1" r="4.8"/><circle cx="908.0" cy="1228.8" r="4.8"/><circle cx="1009.8" cy="1240.3" r="4.8"/><circle cx="976.6" cy="1252.4" r="4.8"/><circle cx="963.8" cy="1250.3" r="4.8"/><circle cx="895.3" cy="1231.2" r="4.8"/><circle cx="993.7" cy="1239.3" r="4.8"/><circle cx="962.8" cy="1171.6" r="4.8"/><circle cx="996.8" cy="1185.1" r="4.8"/><circle cx="986.6" cy="1227.9" r="4.8"/><circle cx="979.8" cy="1163.4" r="4.8"/><circle cx="974.0" cy="1266.9" r="4.8"/><circle cx="939.6" cy="1216.4" r="4.8"/><circle cx="917.0" cy="1240.1" r="4.8"/><circle cx="995.9" cy="1189.1" r="4.8"/><circle cx="983.5" cy="1269.0" r="4.8"/><circle cx="943.0" cy="1196.9" r="4.8"/><circle cx="958.4" cy="1221.8" r="4.8"/><circle cx="959.9" cy="1189.2" r="4.8"/><circle cx="977.3" cy="1261.6" r="4.8"/><circle cx="931.9" cy="1207.3" r="4.8"/><circle cx="955.5" cy="1233.7" r="4.8"/><circle cx="991.4" cy="1188.8" r="4.8"/><circle cx="906.7" cy="1211.3" r="4.8"/><circle cx="911.7" cy="1220.3" r="4.8"/><circle cx="982.6" cy="1202.1" r="4.8"/><circle cx="914.8" cy="1213.1" r="4.8"/><circle cx="1005.9" cy="1238.5" r="4.8"/><circle cx="945.8" cy="1224.0" r="4.8"/><circle cx="987.3" cy="1266.5" r="4.8"/><circle cx="935.8" cy="1207.4" r="4.8"/><circle cx="951.1" cy="1231.9" r="4.8"/><circle cx="969.3" cy="1160.3" r="4.8"/><circle cx="990.5" cy="1203.7" r="4.8"/><circle cx="943.3" cy="1233.9" r="4.8"/><circle cx="954.5" cy="1220.3" r="4.8"/><circle cx="973.5" cy="1183.4" r="4.8"/><circle cx="959.1" cy="1207.2" r="4.8"/><circle cx="972.8" cy="1200.0" r="4.8"/><circle cx="995.6" cy="1213.3" r="4.8"/><circle cx="964.5" cy="1166.7" r="4.8"/><circle cx="978.7" cy="1249.0" r="4.8"/><circle cx="1029.0" cy="1251.0" r="4.8"/><circle cx="998.1" cy="1245.2" r="4.8"/><circle cx="940.6" cy="1236.8" r="4.8"/><circle cx="996.7" cy="1206.6" r="4.8"/><circle cx="943.2" cy="1220.9" r="4.8"/><circle cx="950.8" cy="1165.7" r="4.8"/><circle cx="971.1" cy="1211.7" r="4.8"/><circle cx="973.1" cy="1228.6" r="4.8"/><circle cx="983.0" cy="1241.6" r="4.8"/><circle cx="996.5" cy="1221.8" r="4.8"/><circle cx="987.9" cy="1270.4" r="4.8"/><circle cx="904.7" cy="1233.3" r="4.8"/><circle cx="945.4" cy="1199.8" r="4.8"/><circle cx="983.2" cy="1258.7" r="4.8"/><circle cx="1013.7" cy="1217.9" r="4.8"/><circle cx="938.1" cy="1210.3" r="4.8"/><circle cx="924.1" cy="1217.4" r="4.8"/><circle cx="1012.2" cy="1228.4" r="4.8"/><circle cx="922.9" cy="1225.0" r="4.8"/><circle cx="996.1" cy="1232.5" r="4.8"/><circle cx="958.7" cy="1201.1" r="4.8"/><circle cx="931.7" cy="1244.3" r="4.8"/><circle cx="915.3" cy="1231.9" r="4.8"/><circle cx="1041.5" cy="1248.4" r="4.8"/><circle cx="972.4" cy="1195.8" r="4.8"/><circle cx="975.6" cy="1172.7" r="4.8"/><circle cx="999.1" cy="1199.8" r="4.8"/><circle cx="982.0" cy="1189.7" r="4.8"/><circle cx="948.4" cy="1210.8" r="4.8"/><circle cx="963.0" cy="1242.7" r="4.8"/><circle cx="972.5" cy="1261.9" r="4.8"/><circle cx="992.0" cy="1192.7" r="4.8"/><circle cx="955.1" cy="1237.5" r="4.8"/><circle cx="993.9" cy="1247.1" r="4.8"/><circle cx="912.4" cy="1227.7" r="4.8"/><circle cx="959.1" cy="1217.9" r="4.8"/><circle cx="946.7" cy="1232.0" r="4.8"/><circle cx="926.2" cy="1233.8" r="4.8"/><circle cx="959.7" cy="1193.3" r="4.8"/><circle cx="912.6" cy="1240.3" r="4.8"/><circle cx="928.6" cy="1218.4" r="4.8"/><circle cx="997.1" cy="1194.2" r="4.8"/><circle cx="1013.4" cy="1222.7" r="4.8"/><circle cx="1001.2" cy="1203.6" r="4.8"/><circle cx="974.2" cy="1191.0" r="4.8"/><circle cx="1002.4" cy="1244.2" r="4.8"/><circle cx="992.0" cy="1266.6" r="4.8"/><circle cx="954.9" cy="1203.6" r="4.8"/><circle cx="1010.9" cy="1198.3" r="4.8"/><circle cx="990.9" cy="1158.5" r="4.8"/><circle cx="983.2" cy="1272.7" r="4.8"/><circle cx="976.7" cy="1188.4" r="4.8"/><circle cx="966.6" cy="1186.2" r="4.8"/><circle cx="906.0" cy="1225.8" r="4.8"/><circle cx="971.7" cy="1238.9" r="4.8"/><circle cx="955.4" cy="1210.2" r="4.8"/><circle cx="898.4" cy="1215.1" r="4.8"/><circle cx="909.1" cy="1223.2" r="4.8"/><circle cx="951.4" cy="1205.7" r="4.8"/><circle cx="1003.3" cy="1253.1" r="4.8"/><circle cx="1020.9" cy="1215.3" r="4.8"/><circle cx="975.4" cy="1162.9" r="4.8"/><circle cx="976.1" cy="1206.7" r="4.8"/><circle cx="963.7" cy="1218.2" r="4.8"/><circle cx="955.9" cy="1229.7" r="4.8"/><circle cx="893.9" cy="1234.7" r="4.8"/><circle cx="973.6" cy="1176.8" r="4.8"/><circle cx="959.6" cy="1256.3" r="4.8"/><circle cx="908.1" cy="1215.1" r="4.8"/><circle cx="894.1" cy="1223.5" r="4.8"/><circle cx="902.3" cy="1230.3" r="4.8"/><circle cx="1024.5" cy="1248.4" r="4.8"/><circle cx="982.0" cy="1182.4" r="4.8"/><circle cx="970.9" cy="1215.8" r="4.8"/><circle cx="982.8" cy="1237.8" r="4.8"/><circle cx="984.8" cy="1263.6" r="4.8"/><circle cx="1002.1" cy="1225.9" r="4.8"/><circle cx="914.0" cy="1236.0" r="4.8"/><circle cx="994.4" cy="1209.4" r="4.8"/><circle cx="936.1" cy="1237.9" r="4.8"/><circle cx="949.7" cy="1217.8" r="4.8"/><circle cx="993.3" cy="1230.0" r="4.8"/><circle cx="925.1" cy="1221.5" r="4.8"/><circle cx="963.5" cy="1189.3" r="4.8"/><circle cx="966.8" cy="1233.3" r="4.8"/><circle cx="982.8" cy="1216.6" r="4.8"/><circle cx="1011.1" cy="1206.5" r="4.8"/><circle cx="1014.8" cy="1201.1" r="4.8"/><circle cx="979.6" cy="1159.2" r="4.8"/><circle cx="983.5" cy="1156.9" r="4.8"/><circle cx="961.8" cy="1260.3" r="4.8"/><circle cx="984.3" cy="1193.5" r="4.8"/><circle cx="977.4" cy="1201.9" r="4.8"/><circle cx="991.7" cy="1224.8" r="4.8"/><circle cx="980.7" cy="1231.4" r="4.8"/><circle cx="891.6" cy="1229.4" r="4.8"/><circle cx="961.5" cy="1253.1" r="4.8"/><circle cx="990.2" cy="1197.9" r="4.8"/><circle cx="921.2" cy="1241.4" r="4.8"/><circle cx="935.5" cy="1217.4" r="4.8"/><circle cx="919.9" cy="1210.5" r="4.8"/><circle cx="936.0" cy="1242.8" r="4.8"/><circle cx="953.6" cy="1224.8" r="4.8"/><circle cx="988.9" cy="1230.7" r="4.8"/><circle cx="1009.5" cy="1219.0" r="4.8"/><circle cx="955.7" cy="1197.3" r="4.8"/><circle cx="1028.6" cy="1247.3" r="4.8"/><circle cx="1013.8" cy="1239.8" r="4.8"/><circle cx="1037.6" cy="1242.4" r="4.8"/><circle cx="907.7" cy="1236.6" r="4.8"/><circle cx="921.8" cy="1236.9" r="4.8"/><circle cx="1002.3" cy="1218.6" r="4.8"/><circle cx="957.4" cy="1178.1" r="4.8"/><circle cx="968.2" cy="1203.6" r="4.8"/><circle cx="961.8" cy="1175.2" r="4.8"/><circle cx="1003.3" cy="1198.6" r="4.8"/><circle cx="971.6" cy="1244.6" r="4.8"/><circle cx="945.3" cy="1216.2" r="4.8"/><circle cx="979.7" cy="1245.3" r="4.8"/><circle cx="972.8" cy="1204.4" r="4.8"/><circle cx="962.1" cy="1185.5" r="4.8"/><circle cx="1012.7" cy="1254.4" r="4.8"/><circle cx="927.8" cy="1209.3" r="4.8"/><circle cx="914.6" cy="1243.4" r="4.8"/><circle cx="1006.8" cy="1196.4" r="4.8"/><circle cx="967.0" cy="1172.5" r="4.8"/><circle cx="965.8" cy="1254.2" r="4.8"/><circle cx="981.1" cy="1167.3" r="4.8"/><circle cx="962.0" cy="1222.2" r="4.8"/><circle cx="958.5" cy="1226.0" r="4.8"/><circle cx="918.9" cy="1214.8" r="4.8"/><circle cx="904.2" cy="1218.3" r="4.8"/><circle cx="963.0" cy="1233.6" r="4.8"/><circle cx="984.2" cy="1163.6" r="4.8"/><circle cx="974.2" cy="1159.1" r="4.8"/><circle cx="962.7" cy="1214.1" r="4.8"/><circle cx="1010.1" cy="1202.7" r="4.8"/><circle cx="961.1" cy="1210.3" r="4.8"/><circle cx="994.4" cy="1243.5" r="4.8"/><circle cx="977.1" cy="1182.8" r="4.8"/><circle cx="911.8" cy="1216.0" r="4.8"/><circle cx="979.0" cy="1272.9" r="4.8"/><circle cx="958.8" cy="1249.6" r="4.8"/><circle cx="992.0" cy="1271.3" r="4.8"/><circle cx="996.9" cy="1237.6" r="4.8"/><circle cx="894.9" cy="1227.2" r="4.8"/><circle cx="994.6" cy="1203.1" r="4.8"/><circle cx="930.5" cy="1232.2" r="4.8"/><circle cx="945.4" cy="1227.8" r="4.8"/><circle cx="908.2" cy="1219.2" r="4.8"/><circle cx="910.4" cy="1212.1" r="4.8"/><circle cx="912.7" cy="1223.7" r="4.8"/><circle cx="965.0" cy="1246.3" r="4.8"/><circle cx="984.4" cy="1197.3" r="4.8"/><circle cx="978.6" cy="1224.2" r="4.8"/><circle cx="1046.0" cy="1244.8" r="4.8"/><circle cx="900.3" cy="1239.6" r="4.8"/><circle cx="977.1" cy="1210.7" r="4.8"/><circle cx="929.2" cy="1238.2" r="4.8"/><circle cx="921.4" cy="1233.3" r="4.8"/><circle cx="932.5" cy="1240.3" r="4.8"/><circle cx="984.5" cy="1231.8" r="4.8"/><circle cx="955.4" cy="1247.6" r="4.8"/><circle cx="918.4" cy="1228.8" r="4.8"/><circle cx="985.5" cy="1204.5" r="4.8"/><circle cx="929.0" cy="1222.4" r="4.8"/><circle cx="972.9" cy="1208.5" r="4.8"/><circle cx="972.0" cy="1249.6" r="4.8"/><circle cx="991.9" cy="1214.6" r="4.8"/><circle cx="1008.5" cy="1230.0" r="4.8"/></g>
<g fill="#93AA00"><circle cx="1063.7" cy="1240.4" r="4.8"/><circle cx="1067.4" cy="1240.2" r="4.8"/><circle cx="1063.6" cy="1246.9" r="4.8"/><circle cx="1062.9" cy="1235.9" r="4.8"/><circle cx="1070.2" cy="1236.6" r="4.8"/><circle cx="1061.4" cy="1243.3" r="4.8"/><circle cx="1067.3" cy="1245.0" r="4.8"/><circle cx="1066.6" cy="1235.5" r="4.8"/><circle cx="948.8" cy="1165.7" r="4.8"/><circle cx="1083.0" cy="1249.3" r="4.8"/><circle cx="987.4" cy="1266.8" r="4.8"/><circle cx="988.4" cy="1272.0" r="4.8"/><circle cx="1002.6" cy="1263.0" r="4.8"/><circle cx="1026.2" cy="1275.3" r="4.8"/><circle cx="1022.4" cy="1276.2" r="4.8"/><circle cx="1030.2" cy="1276.2" r="4.8"/><circle cx="780.5" cy="1085.3" r="4.8"/></g>
<g fill="#F8766D"><circle cx="984.1" cy="1164.0" r="3.4"/><circle cx="927.1" cy="1232.5" r="3.4"/><circle cx="911.2" cy="1244.5" r="3.4"/><circle cx="972.1" cy="1239.6" r="3.4"/><circle cx="979.7" cy="1268.6" r="3.4"/><circle cx="984.2" cy="1164.3" r="3.4"/></g>
<g fill="#FF61C3"><circle cx="903.6" cy="1132.8" r="4.8"/><circle cx="906.7" cy="1130.7" r="4.8"/><circle cx="896.8" cy="1148.5" r="4.8"/><circle cx="894.8" cy="1124.0" r="4.8"/><circle cx="898.7" cy="1142.2" r="4.8"/><circle cx="907.5" cy="1149.3" r="4.8"/><circle cx="890.1" cy="1123.9" r="4.8"/><circle cx="903.2" cy="1121.6" r="4.8"/><circle cx="903.9" cy="1128.0" r="4.8"/><circle cx="900.2" cy="1125.2" r="4.8"/><circle cx="898.7" cy="1154.3" r="4.8"/><circle cx="904.6" cy="1146.7" r="4.8"/><circle cx="894.1" cy="1151.1" r="4.8"/><circle cx="889.0" cy="1148.6" r="4.8"/><circle cx="898.9" cy="1129.7" r="4.8"/><circle cx="903.2" cy="1150.4" r="4.8"/><circle cx="902.4" cy="1142.5" r="4.8"/><circle cx="891.9" cy="1145.9" r="4.8"/><circle cx="899.7" cy="1136.5" r="4.8"/><circle cx="904.1" cy="1138.1" r="4.8"/><circle cx="900.0" cy="1146.6" r="4.8"/><circle cx="893.9" cy="1154.8" r="4.8"/><circle cx="895.5" cy="1144.0" r="4.8"/><circle cx="911.7" cy="1151.1" r="4.8"/><circle cx="905.5" cy="1153.3" r="4.8"/><circle cx="906.1" cy="1124.0" r="4.8"/><circle cx="885.8" cy="1166.5" r="4.8"/><circle cx="915.6" cy="1138.1" r="4.8"/></g>
<g fill="#00BA38"><circle cx="937.8" cy="1117.3" r="4.8"/><circle cx="920.0" cy="1116.4" r="4.8"/><circle cx="938.4" cy="1113.3" r="4.8"/><circle cx="936.4" cy="1109.5" r="4.8"/><circle cx="931.8" cy="1113.1" r="4.8"/><circle cx="914.4" cy="1116.2" r="4.8"/><circle cx="917.0" cy="1109.7" r="4.8"/><circle cx="920.8" cy="1108.9" r="4.8"/><circle cx="928.1" cy="1109.2" r="4.8"/><circle cx="925.3" cy="1111.6" r="4.8"/><circle cx="928.6" cy="1116.7" r="4.8"/><circle cx="921.8" cy="1112.9" r="4.8"/><circle cx="925.1" cy="1115.4" r="4.8"/><circle cx="933.6" cy="1117.8" r="4.8"/><circle cx="914.9" cy="1119.8" r="4.8"/><circle cx="924.0" cy="1119.1" r="4.8"/><circle cx="917.2" cy="1113.7" r="4.8"/><circle cx="932.2" cy="1108.0" r="4.8"/><circle cx="924.5" cy="1106.9" r="4.8"/><circle cx="918.6" cy="1120.7" r="4.8"/><circle cx="914.8" cy="1133.9" r="4.8"/><circle cx="899.7" cy="1137.2" r="4.8"/><circle cx="902.2" cy="1144.7" r="4.8"/><circle cx="900.5" cy="1140.6" r="4.8"/></g>
<g fill="#00B9E3"><circle cx="992.9" cy="1142.3" r="4.8"/><circle cx="991.5" cy="1139.0" r="4.8"/><circle cx="1002.8" cy="1142.9" r="4.8"/><circle cx="999.2" cy="1141.6" r="4.8"/><circle cx="994.2" cy="1146.9" r="4.8"/><circle cx="1004.1" cy="1139.2" r="4.8"/><circle cx="987.6" cy="1139.9" r="4.8"/><circle cx="997.7" cy="1136.4" r="4.8"/><circle cx="1000.4" cy="1146.6" r="4.8"/><circle cx="996.9" cy="1144.5" r="4.8"/><circle cx="995.8" cy="1140.0" r="4.8"/><circle cx="1026.4" cy="1125.0" r="4.8"/><circle cx="1024.4" cy="1130.8" r="4.8"/><circle cx="1034.1" cy="1128.6" r="4.8"/><circle cx="1020.6" cy="1128.2" r="4.8"/><circle cx="1016.8" cy="1130.6" r="4.8"/><circle cx="1028.8" cy="1130.0" r="4.8"/><circle cx="1031.0" cy="1126.4" r="4.8"/><circle cx="1020.8" cy="1132.5" r="4.8"/><circle cx="896.3" cy="1164.8" r="4.8"/></g>
<g fill="#00C19F"><circle cx="962.3" cy="1357.2" r="4.8"/><circle cx="971.9" cy="1324.1" r="4.8"/><circle cx="1012.7" cy="1371.9" r="4.8"/><circle cx="978.4" cy="1392.2" r="4.8"/><circle cx="928.8" cy="1369.1" r="4.8"/><circle cx="910.7" cy="1350.1" r="4.8"/><circle cx="990.0" cy="1382.1" r="4.8"/><circle cx="945.5" cy="1347.0" r="4.8"/><circle cx="973.6" cy="1387.9" r="4.8"/><circle cx="965.9" cy="1355.2" r="4.8"/><circle cx="967.2" cy="1345.6" r="4.8"/><circle cx="1008.3" cy="1346.5" r="4.8"/><circle cx="915.5" cy="1355.7" r="4.8"/><circle cx="962.4" cy="1352.2" r="4.8"/><circle cx="984.5" cy="1346.5" r="4.8"/><circle cx="1000.1" cy="1344.0" r="4.8"/><circle cx="984.0" cy="1326.7" r="4.8"/><circle cx="918.9" cy="1353.3" r="4.8"/><circle cx="980.5" cy="1349.0" r="4.8"/><circle cx="917.5" cy="1347.3" r="4.8"/><circle cx="1002.9" cy="1388.5" r="4.8"/><circle cx="953.2" cy="1356.7" r="4.8"/><circle cx="992.4" cy="1386.7" r="4.8"/><circle cx="973.1" cy="1372.9" r="4.8"/><circle cx="988.4" cy="1378.7" r="4.8"/><circle cx="988.5" cy="1344.0" r="4.8"/><circle cx="1006.3" cy="1341.2" r="4.8"/><circle cx="972.5" cy="1339.7" r="4.8"/><circle cx="954.9" cy="1351.1" r="4.8"/><circle cx="994.4" cy="1377.0" r="4.8"/><circle cx="910.3" cy="1356.9" r="4.8"/><circle cx="1013.6" cy="1358.9" r="4.8"/><circle cx="996.0" cy="1368.6" r="4.8"/><circle cx="916.1" cy="1362.6" r="4.8"/><circle cx="996.5" cy="1340.6" r="4.8"/><circle cx="1003.4" cy="1367.3" r="4.8"/><circle cx="996.1" cy="1362.3" r="4.8"/><circle cx="929.3" cy="1351.6" r="4.8"/><circle cx="965.5" cy="1378.1" r="4.8"/><circle cx="938.7" cy="1360.8" r="4.8"/><circle cx="964.0" cy="1366.7" r="4.8"/><circle cx="999.0" cy="1384.9" r="4.8"/><circle cx="932.9" cy="1344.3" r="4.8"/><circle cx="971.3" cy="1379.4" r="4.8"/><circle cx="938.7" cy="1369.6" r="4.8"/><circle cx="928.8" cy="1364.5" r="4.8"/><circle cx="976.0" cy="1342.6" r="4.8"/><circle cx="1017.8" cy="1367.8" r="4.8"/><circle cx="992.5" cy="1335.2" r="4.8"/><circle cx="981.8" cy="1353.7" r="4.8"/><circle cx="967.2" cy="1324.4" r="4.8"/><circle cx="980.7" cy="1334.2" r="4.8"/><circle cx="954.1" cy="1329.7" r="4.8"/><circle cx="955.1" cy="1363.5" r="4.8"/><circle cx="939.1" cy="1357.1" r="4.8"/><circle cx="968.8" cy="1368.7" r="4.8"/><circle cx="951.1" cy="1369.1" r="4.8"/><circle cx="1015.0" cy="1376.1" r="4.8"/><circle cx="980.2" cy="1341.2" r="4.8"/><circle cx="993.7" cy="1381.9" r="4.8"/><circle cx="1021.1" cy="1364.6" r="4.8"/><circle cx="960.2" cy="1327.8" r="4.8"/><circle cx="960.2" cy="1321.3" r="4.8"/><circle cx="946.3" cy="1337.0" r="4.8"/><circle cx="922.5" cy="1363.9" r="4.8"/><circle cx="978.5" cy="1355.7" r="4.8"/><circle cx="1020.6" cy="1359.4" r="4.8"/><circle cx="979.8" cy="1326.0" r="4.8"/><circle cx="1006.9" cy="1380.4" r="4.8"/><circle cx="963.4" cy="1371.5" r="4.8"/><circle cx="913.3" cy="1346.4" r="4.8"/><circle cx="929.2" cy="1360.6" r="4.8"/><circle cx="958.5" cy="1348.1" r="4.8"/><circle cx="1008.7" cy="1360.5" r="4.8"/><circle cx="982.6" cy="1388.5" r="4.8"/><circle cx="980.6" cy="1377.8" r="4.8"/><circle cx="989.4" cy="1332.1" r="4.8"/><circle cx="987.4" cy="1351.6" r="4.8"/><circle cx="968.2" cy="1389.2" r="4.8"/><circle cx="954.7" cy="1373.8" r="4.8"/><circle cx="953.5" cy="1344.1" r="4.8"/><circle cx="943.7" cy="1353.0" r="4.8"/><circle cx="973.1" cy="1350.9" r="4.8"/><circle cx="990.1" cy="1390.4" r="4.8"/><circle cx="1010.4" cy="1341.3" r="4.8"/><circle cx="937.9" cy="1366.1" r="4.8"/><circle cx="1004.6" cy="1363.3" r="4.8"/><circle cx="932.4" cy="1356.0" r="4.8"/><circle cx="993.0" cy="1354.1" r="4.8"/><circle cx="969.3" cy="1349.2" r="4.8"/><circle cx="1009.9" cy="1368.3" r="4.8"/><circle cx="972.6" cy="1354.6" r="4.8"/><circle cx="920.9" cy="1357.2" r="4.8"/><circle cx="992.5" cy="1361.3" r="4.8"/><circle cx="985.0" cy="1366.1" r="4.8"/><circle cx="999.5" cy="1366.9" r="4.8"/><circle cx="962.7" cy="1361.4" r="4.8"/><circle cx="970.3" cy="1330.9" r="4.8"/><circle cx="981.2" cy="1384.7" r="4.8"/><circle cx="957.3" cy="1369.3" r="4.8"/><circle cx="942.4" cy="1343.9" r="4.8"/><circle cx="987.4" cy="1356.0" r="4.8"/><circle cx="979.7" cy="1372.7" r="4.8"/><circle cx="943.3" cy="1371.1" r="4.8"/><circle cx="935.6" cy="1340.2" r="4.8"/><circle cx="956.8" cy="1334.3" r="4.8"/><circle cx="984.1" cy="1379.4" r="4.8"/><circle cx="992.7" cy="1349.1" r="4.8"/><circle cx="976.9" cy="1370.3" r="4.8"/><circle cx="983.4" cy="1360.7" r="4.8"/><circle cx="974.8" cy="1365.1" r="4.8"/><circle cx="975.5" cy="1334.4" r="4.8"/><circle cx="974.9" cy="1377.8" r="4.8"/><circle cx="1012.9" cy="1364.3" r="4.8"/><circle cx="988.6" cy="1337.3" r="4.8"/><circle cx="923.3" cy="1349.8" r="4.8"/><circle cx="1009.6" cy="1374.3" r="4.8"/><circle cx="988.0" cy="1348.0" r="4.8"/><circle cx="977.4" cy="1384.6" r="4.8"/><circle cx="983.9" cy="1340.1" r="4.8"/><circle cx="946.7" cy="1368.8" r="4.8"/><circle cx="968.8" cy="1321.1" r="4.8"/><circle cx="970.3" cy="1375.9" r="4.8"/><circle cx="1015.5" cy="1353.7" r="4.8"/><circle cx="1009.0" cy="1384.7" r="4.8"/><circle cx="999.3" cy="1380.5" r="4.8"/><circle cx="979.9" cy="1367.7" r="4.8"/><circle cx="923.9" cy="1345.5" r="4.8"/><circle cx="1000.7" cy="1373.7" r="4.8"/><circle cx="978.0" cy="1322.6" r="4.8"/><circle cx="997.3" cy="1347.2" r="4.8"/><circle cx="1016.9" cy="1371.9" r="4.8"/><circle cx="964.5" cy="1330.2" r="4.8"/><circle cx="992.5" cy="1366.5" r="4.8"/><circle cx="939.4" cy="1340.2" r="4.8"/><circle cx="974.6" cy="1329.6" r="4.8"/><circle cx="974.3" cy="1392.0" r="4.8"/><circle cx="959.0" cy="1374.0" r="4.8"/><circle cx="996.5" cy="1387.8" r="4.8"/><circle cx="1005.0" cy="1384.5" r="4.8"/><circle cx="986.2" cy="1386.4" r="4.8"/><circle cx="943.2" cy="1358.4" r="4.8"/><circle cx="932.7" cy="1371.2" r="4.8"/><circle cx="994.3" cy="1344.1" r="4.8"/><circle cx="972.9" cy="1368.9" r="4.8"/><circle cx="972.2" cy="1358.4" r="4.8"/><circle cx="976.9" cy="1361.4" r="4.8"/><circle cx="956.7" cy="1339.5" r="4.8"/><circle cx="958.7" cy="1361.1" r="4.8"/><circle cx="950.6" cy="1335.5" r="4.8"/><circle cx="914.7" cy="1351.6" r="4.8"/><circle cx="929.6" cy="1347.1" r="4.8"/><circle cx="991.8" cy="1341.3" r="4.8"/><circle cx="1013.8" cy="1368.1" r="4.8"/><circle cx="949.7" cy="1347.0" r="4.8"/><circle cx="1005.7" cy="1371.9" r="4.8"/><circle cx="920.5" cy="1360.9" r="4.8"/><circle cx="995.5" cy="1372.6" r="4.8"/><circle cx="947.8" cy="1357.6" r="4.8"/><circle cx="977.4" cy="1338.6" r="4.8"/><circle cx="965.0" cy="1383.0" r="4.8"/><circle cx="934.1" cy="1361.2" r="4.8"/><circle cx="987.8" cy="1361.8" r="4.8"/><circle cx="963.4" cy="1325.0" r="4.8"/><circle cx="960.8" cy="1334.7" r="4.8"/><circle cx="905.2" cy="1355.6" r="4.8"/><circle cx="942.1" cy="1362.0" r="4.8"/><circle cx="970.1" cy="1361.9" r="4.8"/><circle cx="950.2" cy="1350.7" r="4.8"/><circle cx="1010.8" cy="1379.2" r="4.8"/><circle cx="977.7" cy="1388.5" r="4.8"/><circle cx="942.0" cy="1337.0" r="4.8"/><circle cx="985.3" cy="1330.7" r="4.8"/><circle cx="1013.4" cy="1383.0" r="4.8"/><circle cx="960.4" cy="1364.3" r="4.8"/><circle cx="942.8" cy="1365.8" r="4.8"/><circle cx="984.6" cy="1394.2" r="4.8"/><circle cx="924.2" cy="1359.7" r="4.8"/><circle cx="957.2" cy="1354.7" r="4.8"/><circle cx="929.6" cy="1341.9" r="4.8"/><circle cx="950.0" cy="1342.7" r="4.8"/><circle cx="970.6" cy="1342.8" r="4.8"/><circle cx="969.2" cy="1334.8" r="4.8"/><circle cx="1024.3" cy="1360.8" r="4.8"/><circle cx="956.9" cy="1325.4" r="4.8"/><circle cx="1024.8" cy="1365.1" r="4.8"/><circle cx="966.3" cy="1351.3" r="4.8"/><circle cx="939.7" cy="1353.2" r="4.8"/><circle cx="975.1" cy="1346.5" r="4.8"/><circle cx="941.3" cy="1349.8" r="4.8"/><circle cx="958.2" cy="1343.9" r="4.8"/><circle cx="981.2" cy="1364.1" r="4.8"/><circle cx="1002.6" cy="1377.4" r="4.8"/><circle cx="924.6" cy="1355.3" r="4.8"/><circle cx="967.8" cy="1385.5" r="4.8"/><circle cx="937.5" cy="1343.7" r="4.8"/><circle cx="1011.8" cy="1353.8" r="4.8"/><circle cx="1016.1" cy="1362.6" r="4.8"/><circle cx="1011.2" cy="1388.2" r="4.8"/><circle cx="995.7" cy="1351.3" r="4.8"/><circle cx="986.2" cy="1334.5" r="4.8"/><circle cx="972.9" cy="1320.6" r="4.8"/><circle cx="968.4" cy="1358.6" r="4.8"/><circle cx="946.4" cy="1341.5" r="4.8"/><circle cx="973.1" cy="1382.8" r="4.8"/><circle cx="923.1" cy="1367.6" r="4.8"/><circle cx="1013.8" cy="1349.3" r="4.8"/><circle cx="977.9" cy="1331.7" r="4.8"/><circle cx="998.4" cy="1376.9" r="4.8"/><circle cx="995.3" cy="1357.1" r="4.8"/><circle cx="985.9" cy="1382.7" r="4.8"/><circle cx="932.1" cy="1366.5" r="4.8"/><circle cx="1008.9" cy="1364.6" r="4.8"/><circle cx="1021.1" cy="1370.0" r="4.8"/><circle cx="949.0" cy="1372.2" r="4.8"/><circle cx="968.3" cy="1372.3" r="4.8"/><circle cx="928.4" cy="1356.6" r="4.8"/><circle cx="977.9" cy="1352.1" r="4.8"/><circle cx="952.1" cy="1339.4" r="4.8"/><circle cx="966.4" cy="1361.7" r="4.8"/><circle cx="1001.0" cy="1362.9" r="4.8"/><circle cx="912.3" cy="1360.8" r="4.8"/><circle cx="947.5" cy="1353.8" r="4.8"/><circle cx="963.1" cy="1346.3" r="4.8"/><circle cx="971.0" cy="1365.6" r="4.8"/><circle cx="968.0" cy="1381.0" r="4.8"/><circle cx="1017.3" cy="1357.4" r="4.8"/><circle cx="964.2" cy="1387.2" r="4.8"/><circle cx="980.1" cy="1345.1" r="4.8"/><circle cx="1004.2" cy="1344.3" r="4.8"/><circle cx="975.5" cy="1325.4" r="4.8"/><circle cx="1012.3" cy="1344.8" r="4.8"/><circle cx="964.6" cy="1334.8" r="4.8"/><circle cx="963.8" cy="1321.5" r="4.8"/><circle cx="968.6" cy="1338.9" r="4.8"/><circle cx="920.3" cy="1344.5" r="4.8"/><circle cx="908.6" cy="1353.2" r="4.8"/><circle cx="983.5" cy="1356.9" r="4.8"/><circle cx="981.4" cy="1329.3" r="4.8"/><circle cx="1020.0" cy="1354.9" r="4.8"/></g>
<g fill="#00C19F"><circle cx="1016.8" cy="1268.7" r="4.8"/><circle cx="1044.2" cy="1289.5" r="4.8"/></g>
<text x="1342.6" y="1030.4" font-size="44.5" fill="#000" font-weight="bold">e</text>
<rect x="1571.9" y="1024.2" width="368.1" height="363.4" fill="#fff" stroke="#e9e9e9" stroke-width="2.4"/>
<rect x="1574.00" y="1026.30" width="40.73" height="36.28" fill="#a67ef7"/>
<rect x="1654.86" y="1026.30" width="40.73" height="36.28" fill="#cdb6fa"/>
<rect x="1735.72" y="1026.30" width="40.73" height="36.28" fill="#fbf9fe"/>
<rect x="1857.01" y="1026.30" width="40.73" height="36.28" fill="#6205df"/>
<rect x="1574.00" y="1062.28" width="40.73" height="36.28" fill="#faf7fe"/>
<rect x="1654.86" y="1062.28" width="40.73" height="36.28" fill="#f90024"/>
<rect x="1857.01" y="1062.28" width="40.73" height="36.28" fill="#fdfbfe"/>
<rect x="1574.00" y="1098.26" width="40.73" height="36.28" fill="#f6f1fc"/>
<rect x="1654.86" y="1098.26" width="40.73" height="36.28" fill="#f60028"/>
<rect x="1735.72" y="1134.24" width="40.73" height="36.28" fill="#ff0505"/>
<rect x="1614.43" y="1170.22" width="40.73" height="36.28" fill="#e60046"/>
<rect x="1816.58" y="1170.22" width="40.73" height="36.28" fill="#dfd0fa"/>
<rect x="1614.43" y="1206.20" width="40.73" height="36.28" fill="#fdfbfe"/>
<rect x="1654.86" y="1206.20" width="40.73" height="36.28" fill="#fdfcfe"/>
<rect x="1816.58" y="1206.20" width="40.73" height="36.28" fill="#fb0216"/>
<rect x="1574.00" y="1242.18" width="40.73" height="36.28" fill="#e6d9fb"/>
<rect x="1654.86" y="1242.18" width="40.73" height="36.28" fill="#6c41f8"/>
<rect x="1735.72" y="1242.18" width="40.73" height="36.28" fill="#f9f6fd"/>
<rect x="1776.15" y="1242.18" width="40.73" height="36.28" fill="#2310f6"/>
<rect x="1776.15" y="1278.16" width="40.73" height="36.28" fill="#ff0404"/>
<rect x="1695.29" y="1314.14" width="40.73" height="36.28" fill="#f6002c"/>
<rect x="1897.44" y="1314.14" width="40.73" height="36.28" fill="#f2eafc"/>
<rect x="1614.43" y="1350.12" width="40.73" height="36.28" fill="#dfd0fa"/>
<rect x="1654.86" y="1350.12" width="40.73" height="36.28" fill="#f7f1fd"/>
<rect x="1695.29" y="1350.12" width="40.73" height="36.28" fill="#d9c4fa"/>
<rect x="1735.72" y="1350.12" width="40.73" height="36.28" fill="#fcfafe"/>
<rect x="1816.58" y="1350.12" width="40.73" height="36.28" fill="#f7f2fc"/>
<rect x="1897.44" y="1350.12" width="40.73" height="36.28" fill="#b5069d"/>
<text x="1560.2" y="1050.8" font-size="18.65" fill="#444444" stroke="#444444" stroke-width="0.3" text-anchor="end">Endosteal fibroblasts</text>
<text x="1560.2" y="1086.8" font-size="18.65" fill="#444444" stroke="#444444" stroke-width="0.3" text-anchor="end">Arteriolar fibroblasts</text>
<text x="1560.2" y="1122.8" font-size="18.65" fill="#444444" stroke="#444444" stroke-width="0.3" text-anchor="end">Stromal fibroblasts</text>
<text x="1560.2" y="1158.7" font-size="18.65" fill="#444444" stroke="#444444" stroke-width="0.3" text-anchor="end">Myofibroblasts</text>
<text x="1560.2" y="1194.7" font-size="18.65" fill="#444444" stroke="#444444" stroke-width="0.3" text-anchor="end">Osteo–CAR</text>
<text x="1560.2" y="1230.7" font-size="18.65" fill="#444444" stroke="#444444" stroke-width="0.3" text-anchor="end">Adipo–CAR</text>
<text x="1560.2" y="1266.7" font-size="18.65" fill="#444444" stroke="#444444" stroke-width="0.3" text-anchor="end">Fib./Chondro. prog.</text>
<text x="1560.2" y="1302.6" font-size="18.65" fill="#444444" stroke="#444444" stroke-width="0.3" text-anchor="end">Chondrocytes</text>
<text x="1560.2" y="1338.6" font-size="18.65" fill="#444444" stroke="#444444" stroke-width="0.3" text-anchor="end">Osteoblasts</text>
<text x="1560.2" y="1374.6" font-size="18.65" fill="#444444" stroke="#444444" stroke-width="0.3" text-anchor="end">Ng2+ MSCs</text>
<path d="M1564.6 1044.3h5.6M1564.6 1080.3h5.6M1564.6 1116.2h5.6M1564.6 1152.2h5.6M1564.6 1188.2h5.6M1564.6 1224.2h5.6M1564.6 1260.2h5.6M1564.6 1296.1h5.6M1564.6 1332.1h5.6M1564.6 1368.1h5.6M1594.2 1389.6v5.6M1634.6 1389.6v5.6M1675.1 1389.6v5.6M1715.5 1389.6v5.6M1755.9 1389.6v5.6M1796.4 1389.6v5.6M1836.8 1389.6v5.6M1877.2 1389.6v5.6M1917.7 1389.6v5.6" stroke="#333333" stroke-width="2" fill="none"/>
<text x="1594.2" y="1412.8" font-size="18.3" fill="#444444" stroke="#444444" stroke-width="0.3" text-anchor="middle">1</text>
<text x="1634.6" y="1412.8" font-size="18.3" fill="#444444" stroke="#444444" stroke-width="0.3" text-anchor="middle">2</text>
<text x="1675.1" y="1412.8" font-size="18.3" fill="#444444" stroke="#444444" stroke-width="0.3" text-anchor="middle">3</text>
<text x="1715.5" y="1412.8" font-size="18.3" fill="#444444" stroke="#444444" stroke-width="0.3" text-anchor="middle">4</text>
<text x="1755.9" y="1412.8" font-size="18.3" fill="#444444" stroke="#444444" stroke-width="0.3" text-anchor="middle">5</text>
<text x="1796.4" y="1412.8" font-size="18.3" fill="#444444" stroke="#444444" stroke-width="0.3" text-anchor="middle">6</text>
<text x="1836.8" y="1412.8" font-size="18.3" fill="#444444" stroke="#444444" stroke-width="0.3" text-anchor="middle">7</text>
<text x="1877.2" y="1412.8" font-size="18.3" fill="#444444" stroke="#444444" stroke-width="0.3" text-anchor="middle">8</text>
<text x="1917.7" y="1412.8" font-size="18.3" fill="#444444" stroke="#444444" stroke-width="0.3" text-anchor="middle">9</text>
<text x="1755.8" y="1440.6" font-size="22.5" fill="#000" stroke="#000" stroke-width="0.3" text-anchor="middle">Soup cluster</text>
<text x="1375.2" y="1206.0" font-size="22.5" fill="#000" stroke="#000" stroke-width="0.3" text-anchor="middle" transform="rotate(-90 1375.2 1206.0)">Seurat cluster</text>
<text x="1976.6" y="1118.8" font-size="22.5" fill="#000" stroke="#000" stroke-width="0.3">% of cells</text>
<defs><linearGradient id="cb" x1="0" y1="0" x2="0" y2="1"><stop offset="0" stop-color="#ff0008"/><stop offset="0.03" stop-color="#ff0010"/><stop offset="0.15" stop-color="#f0003e"/><stop offset="0.27" stop-color="#cf0082"/><stop offset="0.36" stop-color="#a808b4"/><stop offset="0.44" stop-color="#6a10d8"/><stop offset="0.51" stop-color="#3010f5"/><stop offset="0.60" stop-color="#6a48f7"/><stop offset="0.75" stop-color="#ad90f9"/><stop offset="0.88" stop-color="#ddd0fc"/><stop offset="1" stop-color="#ffffff"/></linearGradient></defs>
<rect x="1976.3" y="1133.5" width="36.1" height="177" fill="url(#cb)"/>
<path d="M1976.3 1138.5h7.2M2005.2 1138.5h7.2M1976.3 1180.9h7.2M2005.2 1180.9h7.2M1976.3 1223.4h7.2M2005.2 1223.4h7.2M1976.3 1265.8h7.2M2005.2 1265.8h7.2M1976.3 1308.2h7.2M2005.2 1308.2h7.2" stroke="#fff" stroke-width="1.2" fill="none"/>
<text x="2024.8" y="1144.7" font-size="17.8" fill="#000" stroke="#000" stroke-width="0.3">100</text>
<text x="2024.8" y="1187.1" font-size="17.8" fill="#000" stroke="#000" stroke-width="0.3">75</text>
<text x="2024.8" y="1229.6" font-size="17.8" fill="#000" stroke="#000" stroke-width="0.3">50</text>
<text x="2024.8" y="1272.0" font-size="17.8" fill="#000" stroke="#000" stroke-width="0.3">25</text>
<text x="2024.8" y="1314.4" font-size="17.8" fill="#000" stroke="#000" stroke-width="0.3">0</text>
</svg>
</body></html>
